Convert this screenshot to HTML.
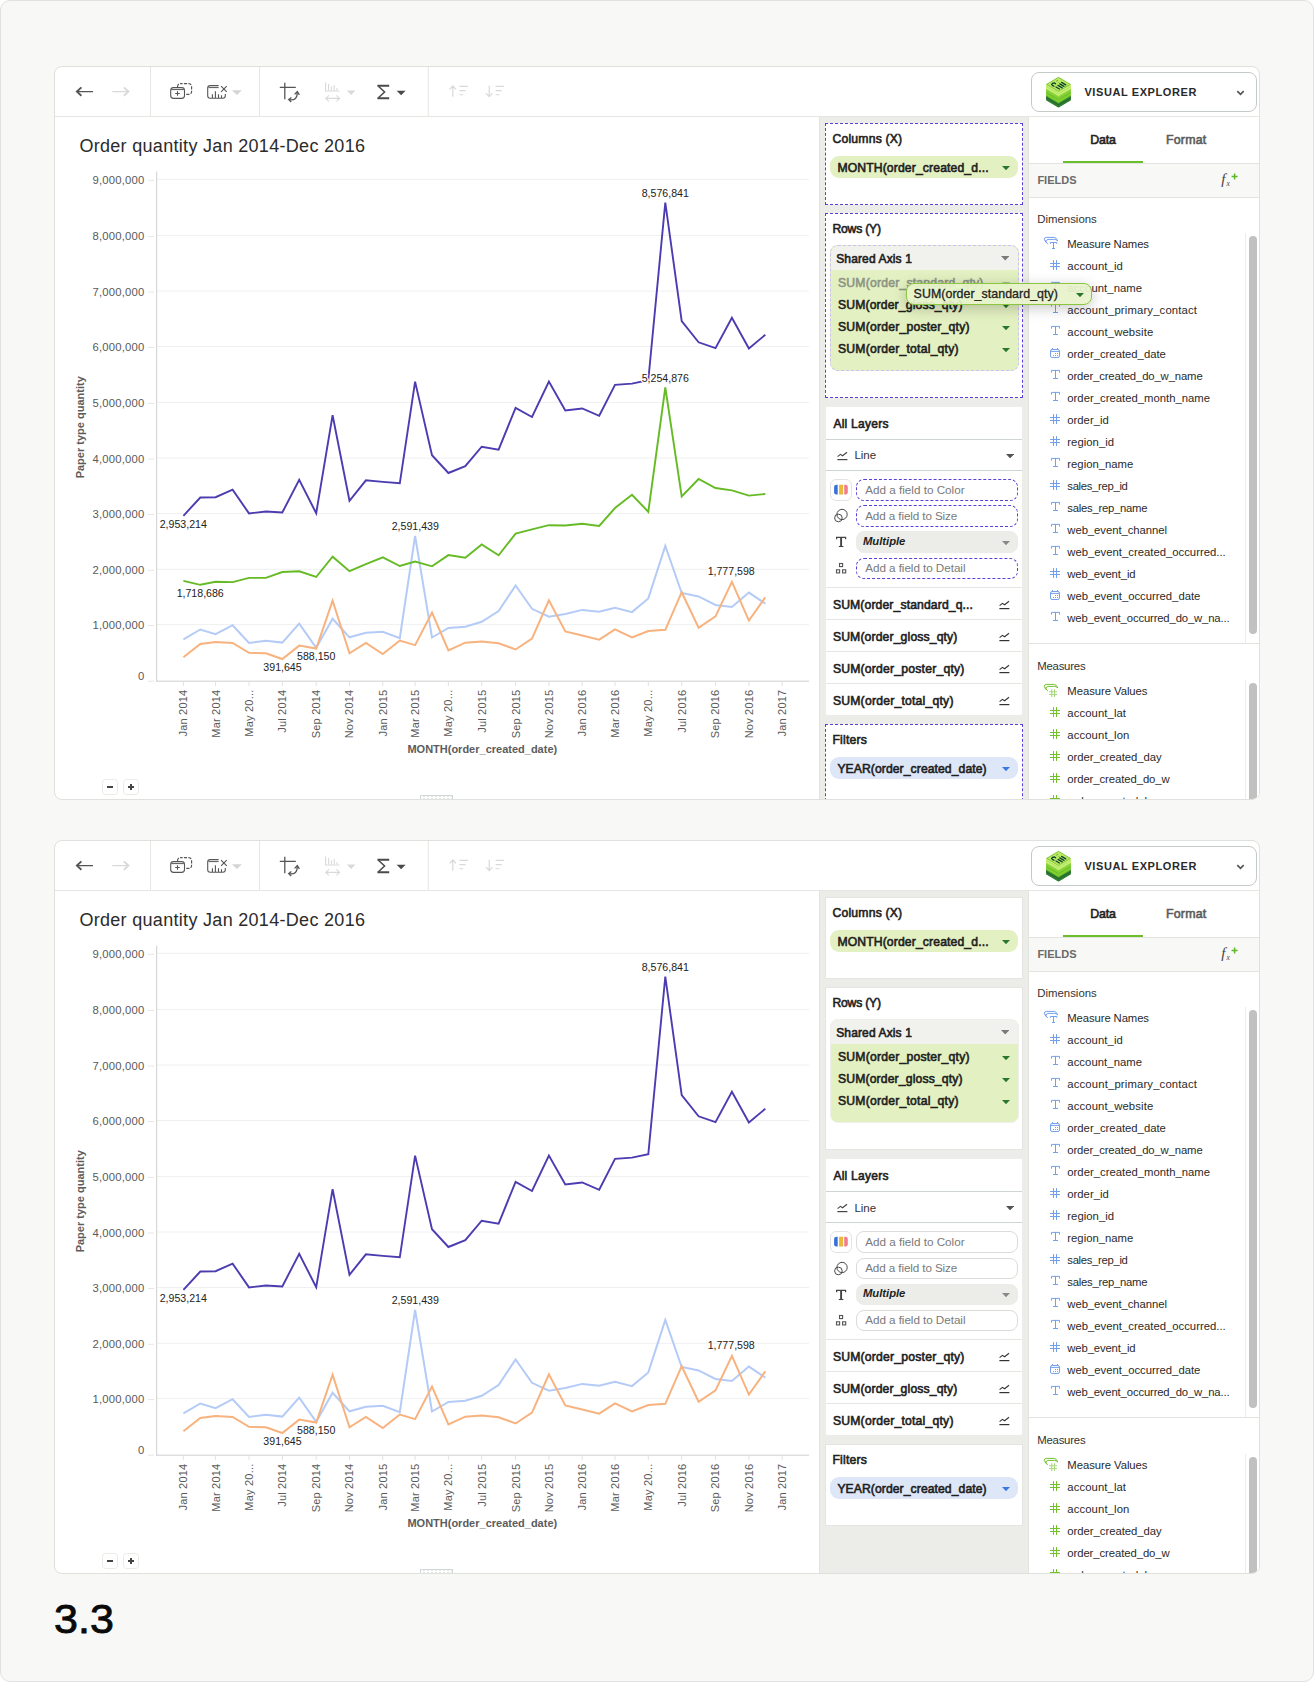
<!DOCTYPE html>
<html lang="en"><head><meta charset="utf-8"><title>Visual Explorer 3.3</title>
<style>
html,body{margin:0;padding:0;background:#fff}
body{width:1314px;height:1682px;position:relative;overflow:hidden;font-family:"Liberation Sans",sans-serif;color:#222}
.frame{position:absolute;left:0;top:0;width:1312px;height:1680px;border:1px solid #dfe2de;border-radius:10px;background:#f8f8f6}
.card{position:absolute;left:54px;width:1204px;height:732px;border:1px solid #dfe1dd;border-radius:8px;background:#fff;overflow:hidden}
.in{position:absolute;left:-55px;top:-67px;width:1314px;height:900px}
.abs{position:absolute;display:block}
.tb{position:absolute;left:55px;top:67px}
.chart{position:absolute;left:55px;top:117px}
.logo{position:absolute;left:1044px;top:75px}
.t{position:absolute;height:20px;line-height:20px;white-space:nowrap;font-size:11.3px}
.title{font-size:18px;color:#2b2b2b}
.h12{font-size:12.2px;font-weight:400;-webkit-text-stroke:.6px currentColor;color:#1f1f1f}
.h115{font-size:12px;font-weight:400;-webkit-text-stroke:.6px currentColor;color:#1f1f1f}
.n115{font-size:11.5px;color:#333}
.it{font-size:12.2px;font-weight:400;-webkit-text-stroke:.6px currentColor;color:#1f1f1f}
.ghosted{color:#8d9684}
.ph{font-size:11.7px;color:#7a7a7a}
.mul{font-size:11.3px;font-weight:700;font-style:italic;color:#1f1f1f}
.tab{font-size:12.4px;font-weight:400;-webkit-text-stroke:.6px currentColor}
.fields{font-size:11px;font-weight:700;color:#6a6a6a}
.dim{font-size:11.4px;color:#333}
.fld{font-size:11.3px;color:#2a2a2a}
.ve{font-size:11px;font-weight:700;color:#2a2a2a}
.dd{position:absolute;left:1031px;top:72px;width:224px;height:38px;border:1px solid #c4cac8;border-radius:8px;background:#fff;box-shadow:0 0 0 2px #fff}
.mid{position:absolute;left:819px;top:117px;width:209px;height:700px;background:#ecede9;border-left:1px solid #e3e4e0}
.rp{position:absolute;left:1028px;top:117px;width:232px;height:700px;background:#fff;border-left:1px solid #e3e4e0}
.mcard{position:absolute;background:#fff}
.pill{position:absolute;border-radius:9px}
.pt{font-size:12.2px;font-weight:400;-webkit-text-stroke:.6px currentColor;color:#1f1f1f}
.sa{position:absolute;border-radius:8px;background:#e3f0c1;overflow:hidden}
.sah{position:absolute;left:0;top:0;right:0;height:24.2px;background:#f1f2ee}
.hl{position:absolute;height:1px}
.cbtn{position:absolute;width:19.5px;height:19.5px;border:1px solid #e3e4e0;border-radius:6px;background:#fff}
.fbox{position:absolute;width:160px;height:19.6px;border-radius:8px;background:#fff}
.zb{position:absolute;width:13.6px;height:13.6px;border:1px solid #ebebe6;border-radius:3.5px;background:#fff}
.zb i{position:absolute;background:#444;display:block}
.rh{position:absolute;left:420px;top:795px;width:30.6px;height:6px;border:1px solid #d2d8d8;background:#fff;background-image:radial-gradient(#c8cccc 0.8px,transparent 1px);background-size:4px 4px;background-position:1px 1.5px}
.ghost{position:absolute;z-index:5;border:1px solid #8cc641;border-radius:8px;background:rgba(231,243,203,.93);box-shadow:0 3px 14px rgba(0,0,0,.22)}
.gt{font-size:12.4px;color:#222;z-index:6;-webkit-text-stroke:.3px currentColor}
.num{position:absolute;left:54.4px;top:1595px;font-size:41px;line-height:48px;color:#0a0a0a;-webkit-text-stroke:.85px #0a0a0a;transform:scaleX(1.05);transform-origin:0 0}
</style></head>
<body>
<div class="frame"></div>
<div class="card" style="top:66px"><div class="in">
<svg class="tb" width="975" height="49" viewBox="55 67 975 49" fill="none" stroke-linecap="butt">
<line x1="150.5" x2="150.5" y1="67" y2="116" stroke="#e6e6e3" stroke-width="1"/>
<line x1="259.5" x2="259.5" y1="67" y2="116" stroke="#e6e6e3" stroke-width="1"/>
<line x1="428.3" x2="428.3" y1="67" y2="116" stroke="#e6e6e3" stroke-width="1"/>
<path d="M93 91.6H78" stroke="#555" stroke-width="1.4"/><path d="M81.4 87.4L76.9 91.6L81.4 95.8" stroke="#555" stroke-width="1.9" stroke-linejoin="miter"/>
<path d="M112.3 91.6H127.3" stroke="#d9d9d9" stroke-width="1.4"/><path d="M123.9 87.4L128.4 91.6L123.9 95.8" stroke="#d9d9d9" stroke-width="1.9" stroke-linejoin="miter"/>
<rect x="177.6" y="83.6" width="14" height="10.8" rx="2.8" stroke="#555" stroke-width="1.15" stroke-dasharray="3.2 1.3" stroke-dashoffset="1"/>
<rect x="170.7" y="87.6" width="13.8" height="10.8" rx="2.8" fill="#fff" stroke="#555" stroke-width="1.1"/>
<path d="M171.4 89.6H183.8" stroke="#555" stroke-width="1"/><path d="M177.5 91.2v4.6M175.2 93.5h4.6" stroke="#555" stroke-width="1.1"/>
<path d="M218.6 85.6H210.2Q207.7 85.6 207.7 88.1V95.8Q207.7 98.3 210.2 98.3H222.8Q225.3 98.3 225.3 95.8V94" stroke="#555" stroke-width="1.1"/>
<path d="M208.6 87.6H218.6" stroke="#555" stroke-width="1"/>
<path d="M212.4 98V94.3M215.4 98V91.2M218.5 98V94.3M221.5 98V95.3" stroke="#555" stroke-width="1.1"/>
<path d="M221.1 86.2l5.6 5.6M226.7 86.2l-5.6 5.6" stroke="#555" stroke-width="1.1"/>
<path d="M232 90.2h9.8l-4.9 4.8z" fill="#d3d5d2"/>
<path d="M284.8 82.8V99.2M279.8 87.3H295.8" stroke="#555" stroke-width="1.3"/>
<path d="M289.2 99.7Q297.6 101 297.2 92.2" stroke="#555" stroke-width="1.3"/>
<path d="M294.6 94.4L297.3 91.6L299.4 94.8" stroke="#555" stroke-width="1.3"/><path d="M291.4 97.4L288.7 99.6L291.2 102" stroke="#555" stroke-width="1.3"/>
<path d="M325.6 82.6V91H339.6" stroke="#d9d9d9" stroke-width="1.1"/><path d="M328.6 90.5V84M331.4 90.5V86.5M334.2 90.5V85M337 90.5V88" stroke="#d9d9d9" stroke-width="1.1"/>
<path d="M326 98.4H339.4M329 95.4L325.8 98.4L329 101.4M336.4 95.4L339.6 98.4L336.4 101.4" stroke="#d9d9d9" stroke-width="1.1"/>
<path d="M346.8 90.6h8.6l-4.3 4.4z" fill="#d9d9d9"/>
<path d="M377.4 85.7H389.2M377.4 98.3H389.2" stroke="#4a4a4a" stroke-width="1.9"/><path d="M378.4 86.2L384.6 92L378.4 97.8" stroke="#4a4a4a" stroke-width="1.5"/>
<path d="M396.6 90.7h9l-4.5 4.6z" fill="#4a4a4a"/>
<path d="M452.8 96.8V86.2M449.6 89.4L452.8 86L456 89.4" stroke="#d9d9d9" stroke-width="1.2"/><path d="M459.4 86.4H468M459.4 90.6H465.6M459.4 94.8H463.2" stroke="#d9d9d9" stroke-width="1.1"/>
<path d="M489.2 85.8V96.4M486 93.2L489.2 96.6L492.4 93.2" stroke="#d9d9d9" stroke-width="1.2"/><path d="M495.6 86.4H504.2M495.6 90.6H501.8M495.6 94.8H499.4" stroke="#d9d9d9" stroke-width="1.1"/>
</svg>
<div class="abs" style="left:55px;top:116px;width:1205px;height:1px;background:#e6e6e3"></div>
<div class="dd"></div>
<svg class="logo" width="30" height="34" viewBox="1044 75 30 34">
<polygon points="1046.7,95.5 1058.5,88.5 1070.3,95.5 1070.3,99.9 1058.5,106.9 1046.7,99.9" fill="#2d7c31" stroke="#2d7c31" stroke-width="1.2" stroke-linejoin="round"/>
<polyline points="1046.3,97.9 1058.5,104.9 1070.7,97.9" fill="none" stroke="#1e672a" stroke-width="0.9" stroke-linejoin="round"/>
<polygon points="1046.7,89.4 1058.5,82.4 1070.3,89.4 1070.3,95.60000000000001 1058.5,102.60000000000001 1046.7,95.60000000000001" fill="#80d131" stroke="#80d131" stroke-width="1.2" stroke-linejoin="round"/>
<polyline points="1046.3,92.7 1058.5,99.7 1070.7,92.7" fill="none" stroke="#65b926" stroke-width="0.9" stroke-linejoin="round"/>
<polyline points="1046.3,95.9 1058.5,102.9 1070.7,95.9" fill="none" stroke="#5aa82a" stroke-width="0.7" stroke-linejoin="round"/>
<polygon points="1046.7,84.4 1058.5,77.4 1070.3,84.4 1070.3,89.0 1058.5,96.0 1046.7,89.0" fill="#c7f172" stroke="#c7f172" stroke-width="1.2" stroke-linejoin="round"/>
<polyline points="1046.3,89.3 1058.5,96.3 1070.7,89.3" fill="none" stroke="#8ccc48" stroke-width="0.7" stroke-linejoin="round"/>
<polygon points="1046.7,84.4 1058.5,77.4 1070.3,84.4 1058.5,91.4" fill="#b9ea5f" stroke="#6db33a" stroke-width="0.7" stroke-linejoin="round"/>
<polyline points="1046.3,86.5 1058.5,93.5 1070.7,86.5" fill="none" stroke="#9ad651" stroke-width="0.6" stroke-linejoin="round"/>
<path d="M1051.6 84.6q0.6-1.6 2.8-1.6l1.2 0.8M1052.4 85.4l1.6 0.9" stroke="#0c4030" stroke-width="1.3" fill="none" stroke-linecap="round"/>
<path d="M1061.6 82.4l4.2 2.5M1059.8 83.9l4.2 2.5M1058 85.4l4.2 2.5M1056 87l3.4 2" stroke="#0c4030" stroke-width="1.25" fill="none" stroke-linecap="round"/>
<path d="M1056.2 81.3l1.8-1M1058.6 82.5l1 0.6" stroke="#4a9540" stroke-width="0.8" fill="none"/>
</svg>
<div class="t ve" style="left:1084.4px;top:82.2px;letter-spacing:0.592px;">VISUAL EXPLORER</div>
<svg class="abs" style="left:1236px;top:90.4px" width="9" height="6" viewBox="0 0 9 6" fill="none"><path d="M1.3 1.2L4.5 4.3L7.7 1.2" stroke="#555" stroke-width="1.7"/></svg>
<div class="t title" style="left:79.4px;top:135.6px;letter-spacing:0.304px;">Order quantity Jan 2014-Dec 2016</div>
<svg class="chart" width="764" height="682" viewBox="55 117 764 682" font-family="Liberation Sans, sans-serif">
<line x1="157" x2="809" y1="179.3" y2="179.3" stroke="#f0f0f0" stroke-width="1"/>
<line x1="148" x2="154" y1="180.3" y2="180.3" stroke="#e6e6e6" stroke-width="1"/>
<line x1="157" x2="809" y1="235.4" y2="235.4" stroke="#f0f0f0" stroke-width="1"/>
<line x1="148" x2="154" y1="236.4" y2="236.4" stroke="#e6e6e6" stroke-width="1"/>
<line x1="157" x2="809" y1="291.0" y2="291.0" stroke="#f0f0f0" stroke-width="1"/>
<line x1="148" x2="154" y1="292.0" y2="292.0" stroke="#e6e6e6" stroke-width="1"/>
<line x1="157" x2="809" y1="346.5" y2="346.5" stroke="#f0f0f0" stroke-width="1"/>
<line x1="148" x2="154" y1="347.5" y2="347.5" stroke="#e6e6e6" stroke-width="1"/>
<line x1="157" x2="809" y1="402.4" y2="402.4" stroke="#f0f0f0" stroke-width="1"/>
<line x1="148" x2="154" y1="403.4" y2="403.4" stroke="#e6e6e6" stroke-width="1"/>
<line x1="157" x2="809" y1="458.0" y2="458.0" stroke="#f0f0f0" stroke-width="1"/>
<line x1="148" x2="154" y1="459.0" y2="459.0" stroke="#e6e6e6" stroke-width="1"/>
<line x1="157" x2="809" y1="513.5" y2="513.5" stroke="#f0f0f0" stroke-width="1"/>
<line x1="148" x2="154" y1="514.5" y2="514.5" stroke="#e6e6e6" stroke-width="1"/>
<line x1="157" x2="809" y1="569.3" y2="569.3" stroke="#f0f0f0" stroke-width="1"/>
<line x1="148" x2="154" y1="570.3" y2="570.3" stroke="#e6e6e6" stroke-width="1"/>
<line x1="157" x2="809" y1="624.6" y2="624.6" stroke="#f0f0f0" stroke-width="1"/>
<line x1="148" x2="154" y1="625.6" y2="625.6" stroke="#e6e6e6" stroke-width="1"/>
<line x1="148" x2="154" y1="681.2" y2="681.2" stroke="#e6e6e6" stroke-width="1"/>
<line x1="156.7" x2="156.7" y1="171.5" y2="681.7" stroke="#cfcfcf" stroke-width="1"/>
<line x1="156.2" x2="809" y1="681.2" y2="681.2" stroke="#cfcfcf" stroke-width="1"/>
<line x1="183.4" x2="183.4" y1="681.5" y2="686" stroke="#e2e2e2" stroke-width="1"/>
<line x1="215.6" x2="215.6" y1="681.5" y2="686" stroke="#e2e2e2" stroke-width="1"/>
<line x1="249.0" x2="249.0" y1="681.5" y2="686" stroke="#e2e2e2" stroke-width="1"/>
<line x1="282.3" x2="282.3" y1="681.5" y2="686" stroke="#e2e2e2" stroke-width="1"/>
<line x1="316.2" x2="316.2" y1="681.5" y2="686" stroke="#e2e2e2" stroke-width="1"/>
<line x1="349.5" x2="349.5" y1="681.5" y2="686" stroke="#e2e2e2" stroke-width="1"/>
<line x1="382.8" x2="382.8" y1="681.5" y2="686" stroke="#e2e2e2" stroke-width="1"/>
<line x1="415.1" x2="415.1" y1="681.5" y2="686" stroke="#e2e2e2" stroke-width="1"/>
<line x1="448.4" x2="448.4" y1="681.5" y2="686" stroke="#e2e2e2" stroke-width="1"/>
<line x1="481.7" x2="481.7" y1="681.5" y2="686" stroke="#e2e2e2" stroke-width="1"/>
<line x1="515.6" x2="515.6" y1="681.5" y2="686" stroke="#e2e2e2" stroke-width="1"/>
<line x1="548.9" x2="548.9" y1="681.5" y2="686" stroke="#e2e2e2" stroke-width="1"/>
<line x1="582.2" x2="582.2" y1="681.5" y2="686" stroke="#e2e2e2" stroke-width="1"/>
<line x1="615.0" x2="615.0" y1="681.5" y2="686" stroke="#e2e2e2" stroke-width="1"/>
<line x1="648.3" x2="648.3" y1="681.5" y2="686" stroke="#e2e2e2" stroke-width="1"/>
<line x1="681.7" x2="681.7" y1="681.5" y2="686" stroke="#e2e2e2" stroke-width="1"/>
<line x1="715.5" x2="715.5" y1="681.5" y2="686" stroke="#e2e2e2" stroke-width="1"/>
<line x1="748.9" x2="748.9" y1="681.5" y2="686" stroke="#e2e2e2" stroke-width="1"/>
<line x1="782.2" x2="782.2" y1="681.5" y2="686" stroke="#e2e2e2" stroke-width="1"/>
<text x="144.4" y="183.9" text-anchor="end" font-size="11.3" letter-spacing="0.18" fill="#5a5a5a">9,000,000</text>
<text x="144.4" y="240.0" text-anchor="end" font-size="11.3" letter-spacing="0.18" fill="#5a5a5a">8,000,000</text>
<text x="144.4" y="295.6" text-anchor="end" font-size="11.3" letter-spacing="0.18" fill="#5a5a5a">7,000,000</text>
<text x="144.4" y="351.1" text-anchor="end" font-size="11.3" letter-spacing="0.18" fill="#5a5a5a">6,000,000</text>
<text x="144.4" y="407.0" text-anchor="end" font-size="11.3" letter-spacing="0.18" fill="#5a5a5a">5,000,000</text>
<text x="144.4" y="462.6" text-anchor="end" font-size="11.3" letter-spacing="0.18" fill="#5a5a5a">4,000,000</text>
<text x="144.4" y="518.1" text-anchor="end" font-size="11.3" letter-spacing="0.18" fill="#5a5a5a">3,000,000</text>
<text x="144.4" y="573.9" text-anchor="end" font-size="11.3" letter-spacing="0.18" fill="#5a5a5a">2,000,000</text>
<text x="144.4" y="629.2" text-anchor="end" font-size="11.3" letter-spacing="0.18" fill="#5a5a5a">1,000,000</text>
<text x="144.4" y="680" text-anchor="end" font-size="11.3" fill="#5a5a5a">0</text>
<text transform="translate(187.3,689.6) rotate(-90)" text-anchor="end" font-size="11" letter-spacing="0.2" fill="#5a5a5a">Jan 2014</text>
<text transform="translate(219.5,689.6) rotate(-90)" text-anchor="end" font-size="11" letter-spacing="0.2" fill="#5a5a5a">Mar 2014</text>
<text transform="translate(252.9,689.6) rotate(-90)" text-anchor="end" font-size="11" letter-spacing="0.2" fill="#5a5a5a">May 20...</text>
<text transform="translate(286.2,689.6) rotate(-90)" text-anchor="end" font-size="11" letter-spacing="0.2" fill="#5a5a5a">Jul 2014</text>
<text transform="translate(320.1,689.6) rotate(-90)" text-anchor="end" font-size="11" letter-spacing="0.2" fill="#5a5a5a">Sep 2014</text>
<text transform="translate(353.4,689.6) rotate(-90)" text-anchor="end" font-size="11" letter-spacing="0.2" fill="#5a5a5a">Nov 2014</text>
<text transform="translate(386.7,689.6) rotate(-90)" text-anchor="end" font-size="11" letter-spacing="0.2" fill="#5a5a5a">Jan 2015</text>
<text transform="translate(419.0,689.6) rotate(-90)" text-anchor="end" font-size="11" letter-spacing="0.2" fill="#5a5a5a">Mar 2015</text>
<text transform="translate(452.3,689.6) rotate(-90)" text-anchor="end" font-size="11" letter-spacing="0.2" fill="#5a5a5a">May 20...</text>
<text transform="translate(485.6,689.6) rotate(-90)" text-anchor="end" font-size="11" letter-spacing="0.2" fill="#5a5a5a">Jul 2015</text>
<text transform="translate(519.5,689.6) rotate(-90)" text-anchor="end" font-size="11" letter-spacing="0.2" fill="#5a5a5a">Sep 2015</text>
<text transform="translate(552.8,689.6) rotate(-90)" text-anchor="end" font-size="11" letter-spacing="0.2" fill="#5a5a5a">Nov 2015</text>
<text transform="translate(586.1,689.6) rotate(-90)" text-anchor="end" font-size="11" letter-spacing="0.2" fill="#5a5a5a">Jan 2016</text>
<text transform="translate(618.9,689.6) rotate(-90)" text-anchor="end" font-size="11" letter-spacing="0.2" fill="#5a5a5a">Mar 2016</text>
<text transform="translate(652.2,689.6) rotate(-90)" text-anchor="end" font-size="11" letter-spacing="0.2" fill="#5a5a5a">May 20...</text>
<text transform="translate(685.6,689.6) rotate(-90)" text-anchor="end" font-size="11" letter-spacing="0.2" fill="#5a5a5a">Jul 2016</text>
<text transform="translate(719.4,689.6) rotate(-90)" text-anchor="end" font-size="11" letter-spacing="0.2" fill="#5a5a5a">Sep 2016</text>
<text transform="translate(752.8,689.6) rotate(-90)" text-anchor="end" font-size="11" letter-spacing="0.2" fill="#5a5a5a">Nov 2016</text>
<text transform="translate(786.1,689.6) rotate(-90)" text-anchor="end" font-size="11" letter-spacing="0.2" fill="#5a5a5a">Jan 2017</text>
<text x="482.3" y="753.2" text-anchor="middle" font-size="11" font-weight="700" fill="#5c5c5c">MONTH(order_created_date)</text>
<text transform="translate(84,427.3) rotate(-90)" text-anchor="middle" font-size="11" font-weight="700" fill="#5c5c5c">Paper type quantity</text>
<polyline points="183.4,639.3 200.3,629.5 215.6,634.1 232.6,625.2 249.0,642.9 265.9,640.7 282.3,642.6 299.2,623.7 316.2,647.8 332.6,618.8 349.5,637.3 365.9,632.7 382.8,631.8 399.8,638.2 415.1,536.0 432.0,637.5 448.4,627.9 465.3,626.8 481.7,621.8 498.6,611.0 515.6,585.5 532.0,608.8 548.9,616.7 565.3,614.0 582.2,609.9 599.2,611.8 615.0,607.8 632.0,612.1 648.3,598.4 665.3,545.9 681.7,593.0 698.6,596.4 715.5,605.0 731.9,606.9 748.9,592.6 765.3,603.6" fill="none" stroke="#b4cbf8" stroke-width="2" stroke-linejoin="miter" stroke-miterlimit="4"/>
<polyline points="183.4,657.3 200.3,643.9 215.6,642.0 232.6,642.9 249.0,652.8 265.9,653.3 282.3,659.0 299.2,645.6 316.2,648.5 332.6,600.6 349.5,653.3 365.9,643.0 382.8,654.0 399.8,640.5 415.1,645.1 432.0,612.6 448.4,650.3 465.3,642.7 481.7,641.6 498.6,643.2 515.6,649.5 532.0,638.6 548.9,600.3 565.3,631.4 582.2,635.5 599.2,639.6 615.0,629.3 632.0,637.4 648.3,631.0 665.3,629.8 681.7,592.2 698.6,627.8 715.5,616.4 731.9,581.8 748.9,620.6 765.3,597.4" fill="none" stroke="#f8b27e" stroke-width="2" stroke-linejoin="miter" stroke-miterlimit="4"/>
<polyline points="183.4,580.8 200.3,584.8 215.6,581.8 232.6,582.1 249.0,577.9 265.9,577.9 282.3,572.0 299.2,571.3 316.2,577.0 332.6,556.7 349.5,571.1 365.9,564.2 382.8,557.4 399.8,566.0 415.1,561.5 432.0,566.3 448.4,555.1 465.3,557.8 481.7,544.4 498.6,555.3 515.6,533.7 532.0,529.3 548.9,525.2 565.3,525.5 582.2,523.8 599.2,525.9 615.0,508.0 632.0,494.8 648.3,511.8 665.3,387.5 681.7,496.5 698.6,479.0 715.5,488.0 731.9,490.4 748.9,495.6 765.3,494.0" fill="none" stroke="#66bb25" stroke-width="1.9" stroke-linejoin="miter" stroke-miterlimit="4"/>
<polyline points="183.4,515.8 200.3,497.5 215.6,497.2 232.6,489.6 249.0,513.4 265.9,511.5 282.3,512.5 299.2,479.8 316.2,513.2 332.6,415.2 349.5,500.8 365.9,480.3 382.8,481.9 399.8,483.3 415.1,381.6 432.0,455.2 448.4,473.0 465.3,466.2 481.7,446.7 498.6,449.7 515.6,407.8 532.0,417.0 548.9,381.5 565.3,410.5 582.2,408.5 599.2,415.8 615.0,384.9 632.0,383.6 648.3,380.3 665.3,202.6 681.7,321.1 698.6,342.3 715.5,348.1 731.9,317.7 748.9,348.5 765.3,334.8" fill="none" stroke="#4c3cb1" stroke-width="1.9" stroke-linejoin="miter" stroke-miterlimit="4"/>
<text x="183.3" y="528.2" text-anchor="middle" font-size="10.6" fill="#222" stroke="#fff" stroke-width="2.5" stroke-linejoin="round" paint-order="stroke">2,953,214</text>
<text x="282.5" y="671.2" text-anchor="middle" font-size="10.6" fill="#222" stroke="#fff" stroke-width="2.5" stroke-linejoin="round" paint-order="stroke">391,645</text>
<text x="316.2" y="660.2" text-anchor="middle" font-size="10.6" fill="#222" stroke="#fff" stroke-width="2.5" stroke-linejoin="round" paint-order="stroke">588,150</text>
<text x="415.3" y="530" text-anchor="middle" font-size="10.6" fill="#222" stroke="#fff" stroke-width="2.5" stroke-linejoin="round" paint-order="stroke">2,591,439</text>
<text x="665.3" y="196.8" text-anchor="middle" font-size="10.6" fill="#222" stroke="#fff" stroke-width="2.5" stroke-linejoin="round" paint-order="stroke">8,576,841</text>
<text x="731.2" y="575.2" text-anchor="middle" font-size="10.6" fill="#222" stroke="#fff" stroke-width="2.5" stroke-linejoin="round" paint-order="stroke">1,777,598</text>
<text x="200.2" y="597.2" text-anchor="middle" font-size="10.6" fill="#222" stroke="#fff" stroke-width="2.5" stroke-linejoin="round" paint-order="stroke">1,718,686</text>
<text x="665.3" y="382" text-anchor="middle" font-size="10.6" fill="#222" stroke="#fff" stroke-width="2.5" stroke-linejoin="round" paint-order="stroke">5,254,876</text>
</svg>
<div class="zb" style="left:102.2px;top:779px"><i style="left:3.6px;top:6.2px;width:6px;height:1.9px"></i></div>
<div class="zb" style="left:123.2px;top:779px"><i style="left:3.6px;top:6.2px;width:6px;height:1.9px"></i><i style="left:5.65px;top:4.15px;width:1.9px;height:6px"></i></div>
<div class="rh"></div>
<div class="mid"></div>
<div class="mcard" style="left:825px;top:123px;width:196px;height:80px;border:1px dashed #5a3fd8"></div>
<div class="t h12" style="left:832.4px;top:128.8px;letter-spacing:0.207px;">Columns (X)</div>
<div class="pill" style="left:830px;top:156px;width:188px;height:22px;background:#e3f0c1;"></div><div class="t pt" style="left:837.4px;top:157.9px;letter-spacing:0.124px;">MONTH(order_created_d...</div><svg class="abs" style="left:1002px;top:165.9px" width="8" height="4.2" viewBox="0 0 8 4.2"><path d="M0 0h8l-4.0 4.2z" fill="#27762b"/></svg>
<div class="mcard" style="left:825px;top:213px;width:196px;height:183px;border:1px dashed #5a3fd8"></div>
<div class="t h12" style="left:832.4px;top:219px;letter-spacing:-0.201px;">Rows (Y)</div>
<div class="sa" style="left:829.5px;top:244.7px;width:187px;height:124.5px;border:1px dashed #c9c2f3"><div class="sah"></div></div>
<div class="t h115" style="left:836.2px;top:249.2px;letter-spacing:0.138px;">Shared Axis 1</div>
<svg class="abs" style="left:1001px;top:256.3px" width="8.4" height="4.4" viewBox="0 0 8.4 4.4"><path d="M0 0h8.4l-4.2 4.4z" fill="#7a7a7a"/></svg>
<div class="t it ghosted" style="left:838px;top:273.0px;letter-spacing:0.204px;">SUM(order_standard_qty)</div>
<svg class="abs" style="left:1001.5px;top:281.7px" width="8" height="4.2" viewBox="0 0 8 4.2"><path d="M0 0h8l-4.0 4.2z" fill="#9cc48a"/></svg>
<div class="t it" style="left:838px;top:295.0px;letter-spacing:0.136px;">SUM(order_gloss_qty)</div>
<svg class="abs" style="left:1001.5px;top:303.7px" width="8" height="4.2" viewBox="0 0 8 4.2"><path d="M0 0h8l-4.0 4.2z" fill="#27762b"/></svg>
<div class="t it" style="left:838px;top:317.0px;letter-spacing:0.208px;">SUM(order_poster_qty)</div>
<svg class="abs" style="left:1001.5px;top:325.7px" width="8" height="4.2" viewBox="0 0 8 4.2"><path d="M0 0h8l-4.0 4.2z" fill="#27762b"/></svg>
<div class="t it" style="left:838px;top:339.0px;letter-spacing:0.215px;">SUM(order_total_qty)</div>
<svg class="abs" style="left:1001.5px;top:347.7px" width="8" height="4.2" viewBox="0 0 8 4.2"><path d="M0 0h8l-4.0 4.2z" fill="#27762b"/></svg>
<div class="mcard" style="left:825.7px;top:406.7px;width:196.4px;height:308.4px"></div>
<div class="t h115" style="left:833.4px;top:413.9px;letter-spacing:0.257px;">All Layers</div>
<div class="hl" style="left:825.7px;top:439.2px;width:196.4px;background:#cfd5d2"></div>
<svg class="abs" style="left:836.8px;top:450.6px" width="11" height="10" viewBox="0 0 11 10" fill="none"><path d="M0.6 5.6L3.4 3.4L5.6 4.8L10 1.2" stroke="#444" stroke-width="1.1"/><path d="M0.4 8.6H10.4" stroke="#444" stroke-width="1.2"/></svg>
<div class="t n115" style="left:854.4px;top:445.4px;letter-spacing:-0.017px;">Line</div>
<svg class="abs" style="left:1005.8px;top:453.8px" width="8.2" height="4.4" viewBox="0 0 8.2 4.4"><path d="M0 0h8.2l-4.1 4.4z" fill="#555"/></svg>
<div class="hl" style="left:825.7px;top:469.8px;width:196.4px;background:#cfd5d2"></div>
<div class="cbtn" style="left:830.4px;top:479.3px"></div>
<svg class="abs" style="left:833px;top:483.3px" width="16" height="14" viewBox="833 4 16 14"><path d="M837.7 5.7V15.5H836.4Q834.1 15.5 834.1 13.2V8Q834.1 5.7 836.4 5.7z" fill="#3a6fd9"/><rect x="839.1" y="5.7" width="4" height="9.8" fill="#e8b93b"/><path d="M844.2 5.7V15.5H845.5Q847.8 15.5 847.8 13.2V8Q847.8 5.7 845.5 5.7z" fill="#f27c90"/></svg>
<div class="fbox" style="left:856px;top:479.3px;border:1px dashed #5a3fd8"></div>
<div class="t ph" style="left:865.2px;top:480.1px;letter-spacing:-0.0px;">Add a field to Color</div>
<svg class="abs" style="left:832px;top:507.4px" width="18" height="18" viewBox="832 2 18 18" fill="none" stroke="#4a4a4a" stroke-width="1"><circle cx="842.05" cy="9.45" r="5.15"/><circle cx="838.4" cy="12.95" r="3.8"/></svg>
<div class="fbox" style="left:856px;top:505.4px;border:1px dashed #5a3fd8"></div>
<div class="t ph" style="left:865.2px;top:506.19999999999993px;letter-spacing:-0.118px;">Add a field to Size</div>
<svg class="abs" style="left:834px;top:535.4px" width="14" height="14" viewBox="834 4 14 14" fill="none" stroke="#444"><path d="M836.6 8.2V6.3H845.6V8.2" stroke-width="1.2"/><path d="M841.1 6.3V15.4" stroke-width="1.9"/><path d="M838.8 15.5H843.4" stroke-width="1.1"/></svg>
<div class="fbox" style="left:856px;top:531.4px;border:1px solid #ecede9;background:#ecede9"></div>
<div class="t mul" style="left:863px;top:530.8px;letter-spacing:-0.041px;">Multiple</div>
<svg class="abs" style="left:1002px;top:540.9px" width="8" height="4.2" viewBox="0 0 8 4.2"><path d="M0 0h8l-4.0 4.2z" fill="#888"/></svg>
<svg class="abs" style="left:834px;top:561.5px" width="14" height="14" viewBox="834 4 14 14" fill="none" stroke="#555" stroke-width="1.1"><rect x="839.5" y="5.5" width="3.1" height="3.1"/><rect x="836.5" y="11.8" width="3.1" height="3.1"/><rect x="842.6" y="11.8" width="3.1" height="3.1"/></svg>
<div class="fbox" style="left:856px;top:557.5px;border:1px dashed #5a3fd8"></div>
<div class="t ph" style="left:865.2px;top:558.3px;letter-spacing:-0.053px;">Add a field to Detail</div>
<div class="hl" style="left:825.7px;top:587.2px;width:196.4px;background:#e6e7e3"></div>
<div class="t it" style="left:832.9px;top:594.8000000000001px;letter-spacing:0.117px;">SUM(order_standard_q...</div>
<svg class="abs" style="left:998.6px;top:599.8000000000001px" width="11" height="10" viewBox="0 0 11 10" fill="none"><path d="M0.6 5.6L3.4 3.4L5.6 4.8L10 1.2" stroke="#333" stroke-width="1.1"/><path d="M0.4 8.6H10.4" stroke="#333" stroke-width="1.2"/></svg>
<div class="hl" style="left:825.7px;top:619.2px;width:196.4px;background:#e6e7e3"></div>
<div class="t it" style="left:832.9px;top:626.8000000000001px;letter-spacing:0.136px;">SUM(order_gloss_qty)</div>
<svg class="abs" style="left:998.6px;top:631.8000000000001px" width="11" height="10" viewBox="0 0 11 10" fill="none"><path d="M0.6 5.6L3.4 3.4L5.6 4.8L10 1.2" stroke="#333" stroke-width="1.1"/><path d="M0.4 8.6H10.4" stroke="#333" stroke-width="1.2"/></svg>
<div class="hl" style="left:825.7px;top:651.2px;width:196.4px;background:#e6e7e3"></div>
<div class="t it" style="left:832.9px;top:658.8000000000001px;letter-spacing:0.208px;">SUM(order_poster_qty)</div>
<svg class="abs" style="left:998.6px;top:663.8000000000001px" width="11" height="10" viewBox="0 0 11 10" fill="none"><path d="M0.6 5.6L3.4 3.4L5.6 4.8L10 1.2" stroke="#333" stroke-width="1.1"/><path d="M0.4 8.6H10.4" stroke="#333" stroke-width="1.2"/></svg>
<div class="hl" style="left:825.7px;top:683.2px;width:196.4px;background:#e6e7e3"></div>
<div class="t it" style="left:832.9px;top:690.8000000000001px;letter-spacing:0.215px;">SUM(order_total_qty)</div>
<svg class="abs" style="left:998.6px;top:695.8000000000001px" width="11" height="10" viewBox="0 0 11 10" fill="none"><path d="M0.6 5.6L3.4 3.4L5.6 4.8L10 1.2" stroke="#333" stroke-width="1.1"/><path d="M0.4 8.6H10.4" stroke="#333" stroke-width="1.2"/></svg>
<div class="mcard" style="left:825px;top:724px;width:196px;height:90px;border:1px dashed #5a3fd8"></div>
<div class="t h12" style="left:832.4px;top:729.8px;letter-spacing:0.219px;">Filters</div>
<div class="pill" style="left:830px;top:757.2px;width:188px;height:22px;background:#dde7f8;"></div><div class="t pt" style="left:837.4px;top:759.1px;letter-spacing:0.066px;">YEAR(order_created_date)</div><svg class="abs" style="left:1002px;top:767.1px" width="8" height="4.2" viewBox="0 0 8 4.2"><path d="M0 0h8l-4.0 4.2z" fill="#3b78e0"/></svg>
<div class="rp"></div>
<div class="t tab" style="left:1090.2px;top:130px;letter-spacing:-0.196px;color:#222">Data</div>
<div class="t tab" style="left:1166px;top:130px;letter-spacing:0.19px;color:#5c5c5c">Format</div>
<div class="abs" style="left:1029px;top:163px;width:231px;height:1px;background:#e3e4e0"></div>
<div class="abs" style="left:1063px;top:160.5px;width:80px;height:2.6px;background:#6cbf2c"></div>
<div class="abs" style="left:1029px;top:164px;width:231px;height:32.5px;background:#f8f8f6;border-bottom:1px solid #e3e4e0"></div>
<div class="t fields" style="left:1037.4px;top:170.4px;letter-spacing:-0.005px;">FIELDS</div>
<svg class="abs" style="left:1220px;top:171px" width="20" height="18" viewBox="0 0 20 18"><text x="1.2" y="13.4" font-family="Liberation Serif, serif" font-style="italic" font-size="15" fill="#444">f</text><text x="6.6" y="14.6" font-family="Liberation Serif, serif" font-style="italic" font-size="7.5" fill="#444">x</text><path d="M14.6 2.6v6M11.6 5.6h6" stroke="#5cb82a" stroke-width="1.5"/></svg>
<div class="t dim" style="left:1037.2px;top:209.4px;letter-spacing:0.009px;">Dimensions</div>
<svg class="abs" style="left:1040px;top:232.0px" width="26" height="24" viewBox="1040 232.0 26 24" fill="none"><path d="M1057.7 240.7Q1056.1 237.4 1054.4 237.4H1046.2Q1044.2 237.6 1044.3 239.4Q1044.7 241.0 1047.5 243.7" stroke="#739fee" stroke-width="1" stroke-linecap="round"/><path d="M1057.3 240.5Q1055.9 239.4 1054.6 239.4H1048Q1046.5 239.6 1045.7 241.3" stroke="#739fee" stroke-width="1" stroke-linecap="round"/><path d="M1045.2 240.7L1046.6 241.8L1045.4 242.1z" fill="#739fee" stroke="#739fee" stroke-width="0.6"/><path d="M1050.4 243.8V242.5H1056.8V243.8M1053.5 242.5V248.5M1052 248.5H1055" stroke="#739fee" stroke-width="1"/></svg>
<div class="t fld" style="left:1067.3px;top:234px;letter-spacing:-0.098px;">Measure Names</div>
<svg class="abs" style="left:1040px;top:254.0px" width="26" height="24" viewBox="1040 254.0 26 24" fill="none"><path d="M1053.5 260.1V270.0M1056.5 260.1V270.0M1050 263.5H1060M1050 266.5H1060" stroke="#739fee" stroke-width="1"/></svg>
<div class="t fld" style="left:1067.3px;top:256px;letter-spacing:0.105px;">account_id</div>
<svg class="abs" style="left:1040px;top:276.0px" width="26" height="24" viewBox="1040 276.0 26 24" fill="none"><path d="M1051.5 284.6V282.4H1059.5V284.6M1055.5 282.4V290.5M1053 290.5H1058" stroke="#739fee" stroke-width="1"/></svg>
<div class="t fld" style="left:1067.3px;top:278px;letter-spacing:0.063px;">account_name</div>
<svg class="abs" style="left:1040px;top:298.0px" width="26" height="24" viewBox="1040 298.0 26 24" fill="none"><path d="M1051.5 306.6V304.4H1059.5V306.6M1055.5 304.4V312.5M1053 312.5H1058" stroke="#739fee" stroke-width="1"/></svg>
<div class="t fld" style="left:1067.3px;top:300px;letter-spacing:0.158px;">account_primary_contact</div>
<svg class="abs" style="left:1040px;top:320.0px" width="26" height="24" viewBox="1040 320.0 26 24" fill="none"><path d="M1051.5 328.6V326.4H1059.5V328.6M1055.5 326.4V334.5M1053 334.5H1058" stroke="#739fee" stroke-width="1"/></svg>
<div class="t fld" style="left:1067.3px;top:322px;letter-spacing:0.125px;">account_website</div>
<svg class="abs" style="left:1040px;top:342.0px" width="26" height="24" viewBox="1040 342.0 26 24" fill="none"><rect x="1050.5" y="349.5" width="9" height="8" rx="1.6" stroke="#739fee" stroke-width="1"/><path d="M1050.5 351.4H1059.5M1052.5 348.0V349.6M1057.5 348.0V349.6" stroke="#739fee" stroke-width="1"/><rect x="1055.0" y="353.0" width="1" height="1" fill="#739fee"/><rect x="1057.0" y="353.0" width="1" height="1" fill="#739fee"/><rect x="1053.0" y="355.0" width="1" height="1" fill="#739fee"/><rect x="1055.0" y="355.0" width="1" height="1" fill="#739fee"/><rect x="1057.0" y="355.0" width="1" height="1" fill="#739fee"/></svg>
<div class="t fld" style="left:1067.3px;top:344px;letter-spacing:-0.001px;">order_created_date</div>
<svg class="abs" style="left:1040px;top:364.0px" width="26" height="24" viewBox="1040 364.0 26 24" fill="none"><path d="M1051.5 372.6V370.4H1059.5V372.6M1055.5 370.4V378.5M1053 378.5H1058" stroke="#739fee" stroke-width="1"/></svg>
<div class="t fld" style="left:1067.3px;top:366px;letter-spacing:-0.126px;">order_created_do_w_name</div>
<svg class="abs" style="left:1040px;top:386.0px" width="26" height="24" viewBox="1040 386.0 26 24" fill="none"><path d="M1051.5 394.6V392.4H1059.5V394.6M1055.5 392.4V400.5M1053 400.5H1058" stroke="#739fee" stroke-width="1"/></svg>
<div class="t fld" style="left:1067.3px;top:388px;letter-spacing:0.006px;">order_created_month_name</div>
<svg class="abs" style="left:1040px;top:408.0px" width="26" height="24" viewBox="1040 408.0 26 24" fill="none"><path d="M1053.5 414.1V424.0M1056.5 414.1V424.0M1050 417.5H1060M1050 420.5H1060" stroke="#739fee" stroke-width="1"/></svg>
<div class="t fld" style="left:1067.3px;top:410px;letter-spacing:-0.008px;">order_id</div>
<svg class="abs" style="left:1040px;top:430.0px" width="26" height="24" viewBox="1040 430.0 26 24" fill="none"><path d="M1053.5 436.1V446.0M1056.5 436.1V446.0M1050 439.5H1060M1050 442.5H1060" stroke="#739fee" stroke-width="1"/></svg>
<div class="t fld" style="left:1067.3px;top:432px;letter-spacing:0.039px;">region_id</div>
<svg class="abs" style="left:1040px;top:452.0px" width="26" height="24" viewBox="1040 452.0 26 24" fill="none"><path d="M1051.5 460.6V458.4H1059.5V460.6M1055.5 458.4V466.5M1053 466.5H1058" stroke="#739fee" stroke-width="1"/></svg>
<div class="t fld" style="left:1067.3px;top:454px;letter-spacing:0.005px;">region_name</div>
<svg class="abs" style="left:1040px;top:474.0px" width="26" height="24" viewBox="1040 474.0 26 24" fill="none"><path d="M1053.5 480.1V490.0M1056.5 480.1V490.0M1050 483.5H1060M1050 486.5H1060" stroke="#739fee" stroke-width="1"/></svg>
<div class="t fld" style="left:1067.3px;top:476px;letter-spacing:-0.315px;">sales_rep_id</div>
<svg class="abs" style="left:1040px;top:496.0px" width="26" height="24" viewBox="1040 496.0 26 24" fill="none"><path d="M1051.5 504.6V502.4H1059.5V504.6M1055.5 502.4V510.5M1053 510.5H1058" stroke="#739fee" stroke-width="1"/></svg>
<div class="t fld" style="left:1067.3px;top:498px;letter-spacing:-0.256px;">sales_rep_name</div>
<svg class="abs" style="left:1040px;top:518.0px" width="26" height="24" viewBox="1040 518.0 26 24" fill="none"><path d="M1051.5 526.6V524.4H1059.5V526.6M1055.5 524.4V532.5M1053 532.5H1058" stroke="#739fee" stroke-width="1"/></svg>
<div class="t fld" style="left:1067.3px;top:520px;letter-spacing:-0.05px;">web_event_channel</div>
<svg class="abs" style="left:1040px;top:540.0px" width="26" height="24" viewBox="1040 540.0 26 24" fill="none"><path d="M1051.5 548.6V546.4H1059.5V548.6M1055.5 546.4V554.5M1053 554.5H1058" stroke="#739fee" stroke-width="1"/></svg>
<div class="t fld" style="left:1067.3px;top:542px;letter-spacing:0.005px;">web_event_created_occurred...</div>
<svg class="abs" style="left:1040px;top:562.0px" width="26" height="24" viewBox="1040 562.0 26 24" fill="none"><path d="M1053.5 568.1V578.0M1056.5 568.1V578.0M1050 571.5H1060M1050 574.5H1060" stroke="#739fee" stroke-width="1"/></svg>
<div class="t fld" style="left:1067.3px;top:564px;letter-spacing:-0.129px;">web_event_id</div>
<svg class="abs" style="left:1040px;top:584.0px" width="26" height="24" viewBox="1040 584.0 26 24" fill="none"><rect x="1050.5" y="591.5" width="9" height="8" rx="1.6" stroke="#739fee" stroke-width="1"/><path d="M1050.5 593.4H1059.5M1052.5 590.0V591.6M1057.5 590.0V591.6" stroke="#739fee" stroke-width="1"/><rect x="1055.0" y="595.0" width="1" height="1" fill="#739fee"/><rect x="1057.0" y="595.0" width="1" height="1" fill="#739fee"/><rect x="1053.0" y="597.0" width="1" height="1" fill="#739fee"/><rect x="1055.0" y="597.0" width="1" height="1" fill="#739fee"/><rect x="1057.0" y="597.0" width="1" height="1" fill="#739fee"/></svg>
<div class="t fld" style="left:1067.3px;top:586px;letter-spacing:-0.003px;">web_event_occurred_date</div>
<svg class="abs" style="left:1040px;top:606.0px" width="26" height="24" viewBox="1040 606.0 26 24" fill="none"><path d="M1051.5 614.6V612.4H1059.5V614.6M1055.5 612.4V620.5M1053 620.5H1058" stroke="#739fee" stroke-width="1"/></svg>
<div class="t fld" style="left:1067.3px;top:608px;letter-spacing:-0.148px;">web_event_occurred_do_w_na...</div>
<div class="abs" style="left:1244.6px;top:232.5px;width:15px;height:410px;background:#fff;border-left:1px solid #ececec"></div>
<div class="abs" style="left:1248.8px;top:236px;width:7.8px;height:398px;background:#c1c1c1;border-radius:4px"></div>
<div class="abs" style="left:1029px;top:642.5px;width:231px;height:1px;background:#e3e4e0"></div>
<div class="t dim" style="left:1037.2px;top:656px;letter-spacing:-0.231px;">Measures</div>
<div class="abs" style="left:1029px;top:680px;width:231px;height:119px;overflow:hidden"><div style="position:absolute;left:-1029px;top:-680px">
<svg class="abs" style="left:1040px;top:679.0px" width="26" height="24" viewBox="1040 679.0 26 24" fill="none"><path d="M1057.7 687.7Q1056.1 684.4 1054.4 684.4H1046.2Q1044.2 684.6 1044.3 686.4Q1044.7 688.0 1047.5 690.7" stroke="#74c12c" stroke-width="1" stroke-linecap="round"/><path d="M1057.3 687.5Q1055.9 686.4 1054.6 686.4H1048Q1046.5 686.6 1045.7 688.3" stroke="#74c12c" stroke-width="1" stroke-linecap="round"/><path d="M1045.2 687.7L1046.6 688.8L1045.4 689.1z" fill="#74c12c" stroke="#74c12c" stroke-width="0.6"/><path d="M1051.7 689.2V697.0M1054.5 689.2V697.0M1049 691.7H1057M1049 694.5H1057" stroke="#74c12c" stroke-width="1.1" opacity="0.62"/></svg>
<div class="t fld" style="left:1067.3px;top:681px;letter-spacing:-0.046px;">Measure Values</div>
<svg class="abs" style="left:1040px;top:701.0px" width="26" height="24" viewBox="1040 701.0 26 24" fill="none"><path d="M1053.5 707.1V717.0M1056.5 707.1V717.0M1050 710.5H1060M1050 713.5H1060" stroke="#74c12c" stroke-width="1"/></svg>
<div class="t fld" style="left:1067.3px;top:703px;letter-spacing:0.092px;">account_lat</div>
<svg class="abs" style="left:1040px;top:723.0px" width="26" height="24" viewBox="1040 723.0 26 24" fill="none"><path d="M1053.5 729.1V739.0M1056.5 729.1V739.0M1050 732.5H1060M1050 735.5H1060" stroke="#74c12c" stroke-width="1"/></svg>
<div class="t fld" style="left:1067.3px;top:725px;letter-spacing:0.116px;">account_lon</div>
<svg class="abs" style="left:1040px;top:745.0px" width="26" height="24" viewBox="1040 745.0 26 24" fill="none"><path d="M1053.5 751.1V761.0M1056.5 751.1V761.0M1050 754.5H1060M1050 757.5H1060" stroke="#74c12c" stroke-width="1"/></svg>
<div class="t fld" style="left:1067.3px;top:747px;letter-spacing:-0.028px;">order_created_day</div>
<svg class="abs" style="left:1040px;top:767.0px" width="26" height="24" viewBox="1040 767.0 26 24" fill="none"><path d="M1053.5 773.1V783.0M1056.5 773.1V783.0M1050 776.5H1060M1050 779.5H1060" stroke="#74c12c" stroke-width="1"/></svg>
<div class="t fld" style="left:1067.3px;top:769px;letter-spacing:-0.072px;">order_created_do_w</div>
<svg class="abs" style="left:1040px;top:789.0px" width="26" height="24" viewBox="1040 789.0 26 24" fill="none"><path d="M1053.5 795.1V805.0M1056.5 795.1V805.0M1050 798.5H1060M1050 801.5H1060" stroke="#74c12c" stroke-width="1"/></svg>
<div class="t fld" style="left:1067.3px;top:791px;letter-spacing:0.045px;">order_created_hour</div>
<div class="abs" style="left:1244.6px;top:680px;width:15px;height:130px;background:#fff;border-left:1px solid #ececec"></div>
<div class="abs" style="left:1248.8px;top:683px;width:7.8px;height:140px;background:#c1c1c1;border-radius:4px"></div>
</div></div>
<div class="ghost" style="left:906px;top:283.4px;width:184px;height:19.4px"></div><div class="t gt" style="left:913.6px;top:283.8px;letter-spacing:0.048px;">SUM(order_standard_qty)</div><svg class="abs" style="z-index:6;left:1076.4px;top:292.5px" width="8" height="4.2" viewBox="0 0 8 4.2"><path d="M0 0h8l-4.0 4.2z" fill="#27762b"/></svg>
</div></div>
<div class="card" style="top:840px"><div class="in">
<svg class="tb" width="975" height="49" viewBox="55 67 975 49" fill="none" stroke-linecap="butt">
<line x1="150.5" x2="150.5" y1="67" y2="116" stroke="#e6e6e3" stroke-width="1"/>
<line x1="259.5" x2="259.5" y1="67" y2="116" stroke="#e6e6e3" stroke-width="1"/>
<line x1="428.3" x2="428.3" y1="67" y2="116" stroke="#e6e6e3" stroke-width="1"/>
<path d="M93 91.6H78" stroke="#555" stroke-width="1.4"/><path d="M81.4 87.4L76.9 91.6L81.4 95.8" stroke="#555" stroke-width="1.9" stroke-linejoin="miter"/>
<path d="M112.3 91.6H127.3" stroke="#d9d9d9" stroke-width="1.4"/><path d="M123.9 87.4L128.4 91.6L123.9 95.8" stroke="#d9d9d9" stroke-width="1.9" stroke-linejoin="miter"/>
<rect x="177.6" y="83.6" width="14" height="10.8" rx="2.8" stroke="#555" stroke-width="1.15" stroke-dasharray="3.2 1.3" stroke-dashoffset="1"/>
<rect x="170.7" y="87.6" width="13.8" height="10.8" rx="2.8" fill="#fff" stroke="#555" stroke-width="1.1"/>
<path d="M171.4 89.6H183.8" stroke="#555" stroke-width="1"/><path d="M177.5 91.2v4.6M175.2 93.5h4.6" stroke="#555" stroke-width="1.1"/>
<path d="M218.6 85.6H210.2Q207.7 85.6 207.7 88.1V95.8Q207.7 98.3 210.2 98.3H222.8Q225.3 98.3 225.3 95.8V94" stroke="#555" stroke-width="1.1"/>
<path d="M208.6 87.6H218.6" stroke="#555" stroke-width="1"/>
<path d="M212.4 98V94.3M215.4 98V91.2M218.5 98V94.3M221.5 98V95.3" stroke="#555" stroke-width="1.1"/>
<path d="M221.1 86.2l5.6 5.6M226.7 86.2l-5.6 5.6" stroke="#555" stroke-width="1.1"/>
<path d="M232 90.2h9.8l-4.9 4.8z" fill="#d3d5d2"/>
<path d="M284.8 82.8V99.2M279.8 87.3H295.8" stroke="#555" stroke-width="1.3"/>
<path d="M289.2 99.7Q297.6 101 297.2 92.2" stroke="#555" stroke-width="1.3"/>
<path d="M294.6 94.4L297.3 91.6L299.4 94.8" stroke="#555" stroke-width="1.3"/><path d="M291.4 97.4L288.7 99.6L291.2 102" stroke="#555" stroke-width="1.3"/>
<path d="M325.6 82.6V91H339.6" stroke="#d9d9d9" stroke-width="1.1"/><path d="M328.6 90.5V84M331.4 90.5V86.5M334.2 90.5V85M337 90.5V88" stroke="#d9d9d9" stroke-width="1.1"/>
<path d="M326 98.4H339.4M329 95.4L325.8 98.4L329 101.4M336.4 95.4L339.6 98.4L336.4 101.4" stroke="#d9d9d9" stroke-width="1.1"/>
<path d="M346.8 90.6h8.6l-4.3 4.4z" fill="#d9d9d9"/>
<path d="M377.4 85.7H389.2M377.4 98.3H389.2" stroke="#4a4a4a" stroke-width="1.9"/><path d="M378.4 86.2L384.6 92L378.4 97.8" stroke="#4a4a4a" stroke-width="1.5"/>
<path d="M396.6 90.7h9l-4.5 4.6z" fill="#4a4a4a"/>
<path d="M452.8 96.8V86.2M449.6 89.4L452.8 86L456 89.4" stroke="#d9d9d9" stroke-width="1.2"/><path d="M459.4 86.4H468M459.4 90.6H465.6M459.4 94.8H463.2" stroke="#d9d9d9" stroke-width="1.1"/>
<path d="M489.2 85.8V96.4M486 93.2L489.2 96.6L492.4 93.2" stroke="#d9d9d9" stroke-width="1.2"/><path d="M495.6 86.4H504.2M495.6 90.6H501.8M495.6 94.8H499.4" stroke="#d9d9d9" stroke-width="1.1"/>
</svg>
<div class="abs" style="left:55px;top:116px;width:1205px;height:1px;background:#e6e6e3"></div>
<div class="dd"></div>
<svg class="logo" width="30" height="34" viewBox="1044 75 30 34">
<polygon points="1046.7,95.5 1058.5,88.5 1070.3,95.5 1070.3,99.9 1058.5,106.9 1046.7,99.9" fill="#2d7c31" stroke="#2d7c31" stroke-width="1.2" stroke-linejoin="round"/>
<polyline points="1046.3,97.9 1058.5,104.9 1070.7,97.9" fill="none" stroke="#1e672a" stroke-width="0.9" stroke-linejoin="round"/>
<polygon points="1046.7,89.4 1058.5,82.4 1070.3,89.4 1070.3,95.60000000000001 1058.5,102.60000000000001 1046.7,95.60000000000001" fill="#80d131" stroke="#80d131" stroke-width="1.2" stroke-linejoin="round"/>
<polyline points="1046.3,92.7 1058.5,99.7 1070.7,92.7" fill="none" stroke="#65b926" stroke-width="0.9" stroke-linejoin="round"/>
<polyline points="1046.3,95.9 1058.5,102.9 1070.7,95.9" fill="none" stroke="#5aa82a" stroke-width="0.7" stroke-linejoin="round"/>
<polygon points="1046.7,84.4 1058.5,77.4 1070.3,84.4 1070.3,89.0 1058.5,96.0 1046.7,89.0" fill="#c7f172" stroke="#c7f172" stroke-width="1.2" stroke-linejoin="round"/>
<polyline points="1046.3,89.3 1058.5,96.3 1070.7,89.3" fill="none" stroke="#8ccc48" stroke-width="0.7" stroke-linejoin="round"/>
<polygon points="1046.7,84.4 1058.5,77.4 1070.3,84.4 1058.5,91.4" fill="#b9ea5f" stroke="#6db33a" stroke-width="0.7" stroke-linejoin="round"/>
<polyline points="1046.3,86.5 1058.5,93.5 1070.7,86.5" fill="none" stroke="#9ad651" stroke-width="0.6" stroke-linejoin="round"/>
<path d="M1051.6 84.6q0.6-1.6 2.8-1.6l1.2 0.8M1052.4 85.4l1.6 0.9" stroke="#0c4030" stroke-width="1.3" fill="none" stroke-linecap="round"/>
<path d="M1061.6 82.4l4.2 2.5M1059.8 83.9l4.2 2.5M1058 85.4l4.2 2.5M1056 87l3.4 2" stroke="#0c4030" stroke-width="1.25" fill="none" stroke-linecap="round"/>
<path d="M1056.2 81.3l1.8-1M1058.6 82.5l1 0.6" stroke="#4a9540" stroke-width="0.8" fill="none"/>
</svg>
<div class="t ve" style="left:1084.4px;top:82.2px;letter-spacing:0.592px;">VISUAL EXPLORER</div>
<svg class="abs" style="left:1236px;top:90.4px" width="9" height="6" viewBox="0 0 9 6" fill="none"><path d="M1.3 1.2L4.5 4.3L7.7 1.2" stroke="#555" stroke-width="1.7"/></svg>
<div class="t title" style="left:79.4px;top:135.6px;letter-spacing:0.304px;">Order quantity Jan 2014-Dec 2016</div>
<svg class="chart" width="764" height="682" viewBox="55 117 764 682" font-family="Liberation Sans, sans-serif">
<line x1="157" x2="809" y1="179.3" y2="179.3" stroke="#f0f0f0" stroke-width="1"/>
<line x1="148" x2="154" y1="180.3" y2="180.3" stroke="#e6e6e6" stroke-width="1"/>
<line x1="157" x2="809" y1="235.4" y2="235.4" stroke="#f0f0f0" stroke-width="1"/>
<line x1="148" x2="154" y1="236.4" y2="236.4" stroke="#e6e6e6" stroke-width="1"/>
<line x1="157" x2="809" y1="291.0" y2="291.0" stroke="#f0f0f0" stroke-width="1"/>
<line x1="148" x2="154" y1="292.0" y2="292.0" stroke="#e6e6e6" stroke-width="1"/>
<line x1="157" x2="809" y1="346.5" y2="346.5" stroke="#f0f0f0" stroke-width="1"/>
<line x1="148" x2="154" y1="347.5" y2="347.5" stroke="#e6e6e6" stroke-width="1"/>
<line x1="157" x2="809" y1="402.4" y2="402.4" stroke="#f0f0f0" stroke-width="1"/>
<line x1="148" x2="154" y1="403.4" y2="403.4" stroke="#e6e6e6" stroke-width="1"/>
<line x1="157" x2="809" y1="458.0" y2="458.0" stroke="#f0f0f0" stroke-width="1"/>
<line x1="148" x2="154" y1="459.0" y2="459.0" stroke="#e6e6e6" stroke-width="1"/>
<line x1="157" x2="809" y1="513.5" y2="513.5" stroke="#f0f0f0" stroke-width="1"/>
<line x1="148" x2="154" y1="514.5" y2="514.5" stroke="#e6e6e6" stroke-width="1"/>
<line x1="157" x2="809" y1="569.3" y2="569.3" stroke="#f0f0f0" stroke-width="1"/>
<line x1="148" x2="154" y1="570.3" y2="570.3" stroke="#e6e6e6" stroke-width="1"/>
<line x1="157" x2="809" y1="624.6" y2="624.6" stroke="#f0f0f0" stroke-width="1"/>
<line x1="148" x2="154" y1="625.6" y2="625.6" stroke="#e6e6e6" stroke-width="1"/>
<line x1="148" x2="154" y1="681.2" y2="681.2" stroke="#e6e6e6" stroke-width="1"/>
<line x1="156.7" x2="156.7" y1="171.5" y2="681.7" stroke="#cfcfcf" stroke-width="1"/>
<line x1="156.2" x2="809" y1="681.2" y2="681.2" stroke="#cfcfcf" stroke-width="1"/>
<line x1="183.4" x2="183.4" y1="681.5" y2="686" stroke="#e2e2e2" stroke-width="1"/>
<line x1="215.6" x2="215.6" y1="681.5" y2="686" stroke="#e2e2e2" stroke-width="1"/>
<line x1="249.0" x2="249.0" y1="681.5" y2="686" stroke="#e2e2e2" stroke-width="1"/>
<line x1="282.3" x2="282.3" y1="681.5" y2="686" stroke="#e2e2e2" stroke-width="1"/>
<line x1="316.2" x2="316.2" y1="681.5" y2="686" stroke="#e2e2e2" stroke-width="1"/>
<line x1="349.5" x2="349.5" y1="681.5" y2="686" stroke="#e2e2e2" stroke-width="1"/>
<line x1="382.8" x2="382.8" y1="681.5" y2="686" stroke="#e2e2e2" stroke-width="1"/>
<line x1="415.1" x2="415.1" y1="681.5" y2="686" stroke="#e2e2e2" stroke-width="1"/>
<line x1="448.4" x2="448.4" y1="681.5" y2="686" stroke="#e2e2e2" stroke-width="1"/>
<line x1="481.7" x2="481.7" y1="681.5" y2="686" stroke="#e2e2e2" stroke-width="1"/>
<line x1="515.6" x2="515.6" y1="681.5" y2="686" stroke="#e2e2e2" stroke-width="1"/>
<line x1="548.9" x2="548.9" y1="681.5" y2="686" stroke="#e2e2e2" stroke-width="1"/>
<line x1="582.2" x2="582.2" y1="681.5" y2="686" stroke="#e2e2e2" stroke-width="1"/>
<line x1="615.0" x2="615.0" y1="681.5" y2="686" stroke="#e2e2e2" stroke-width="1"/>
<line x1="648.3" x2="648.3" y1="681.5" y2="686" stroke="#e2e2e2" stroke-width="1"/>
<line x1="681.7" x2="681.7" y1="681.5" y2="686" stroke="#e2e2e2" stroke-width="1"/>
<line x1="715.5" x2="715.5" y1="681.5" y2="686" stroke="#e2e2e2" stroke-width="1"/>
<line x1="748.9" x2="748.9" y1="681.5" y2="686" stroke="#e2e2e2" stroke-width="1"/>
<line x1="782.2" x2="782.2" y1="681.5" y2="686" stroke="#e2e2e2" stroke-width="1"/>
<text x="144.4" y="183.9" text-anchor="end" font-size="11.3" letter-spacing="0.18" fill="#5a5a5a">9,000,000</text>
<text x="144.4" y="240.0" text-anchor="end" font-size="11.3" letter-spacing="0.18" fill="#5a5a5a">8,000,000</text>
<text x="144.4" y="295.6" text-anchor="end" font-size="11.3" letter-spacing="0.18" fill="#5a5a5a">7,000,000</text>
<text x="144.4" y="351.1" text-anchor="end" font-size="11.3" letter-spacing="0.18" fill="#5a5a5a">6,000,000</text>
<text x="144.4" y="407.0" text-anchor="end" font-size="11.3" letter-spacing="0.18" fill="#5a5a5a">5,000,000</text>
<text x="144.4" y="462.6" text-anchor="end" font-size="11.3" letter-spacing="0.18" fill="#5a5a5a">4,000,000</text>
<text x="144.4" y="518.1" text-anchor="end" font-size="11.3" letter-spacing="0.18" fill="#5a5a5a">3,000,000</text>
<text x="144.4" y="573.9" text-anchor="end" font-size="11.3" letter-spacing="0.18" fill="#5a5a5a">2,000,000</text>
<text x="144.4" y="629.2" text-anchor="end" font-size="11.3" letter-spacing="0.18" fill="#5a5a5a">1,000,000</text>
<text x="144.4" y="680" text-anchor="end" font-size="11.3" fill="#5a5a5a">0</text>
<text transform="translate(187.3,689.6) rotate(-90)" text-anchor="end" font-size="11" letter-spacing="0.2" fill="#5a5a5a">Jan 2014</text>
<text transform="translate(219.5,689.6) rotate(-90)" text-anchor="end" font-size="11" letter-spacing="0.2" fill="#5a5a5a">Mar 2014</text>
<text transform="translate(252.9,689.6) rotate(-90)" text-anchor="end" font-size="11" letter-spacing="0.2" fill="#5a5a5a">May 20...</text>
<text transform="translate(286.2,689.6) rotate(-90)" text-anchor="end" font-size="11" letter-spacing="0.2" fill="#5a5a5a">Jul 2014</text>
<text transform="translate(320.1,689.6) rotate(-90)" text-anchor="end" font-size="11" letter-spacing="0.2" fill="#5a5a5a">Sep 2014</text>
<text transform="translate(353.4,689.6) rotate(-90)" text-anchor="end" font-size="11" letter-spacing="0.2" fill="#5a5a5a">Nov 2014</text>
<text transform="translate(386.7,689.6) rotate(-90)" text-anchor="end" font-size="11" letter-spacing="0.2" fill="#5a5a5a">Jan 2015</text>
<text transform="translate(419.0,689.6) rotate(-90)" text-anchor="end" font-size="11" letter-spacing="0.2" fill="#5a5a5a">Mar 2015</text>
<text transform="translate(452.3,689.6) rotate(-90)" text-anchor="end" font-size="11" letter-spacing="0.2" fill="#5a5a5a">May 20...</text>
<text transform="translate(485.6,689.6) rotate(-90)" text-anchor="end" font-size="11" letter-spacing="0.2" fill="#5a5a5a">Jul 2015</text>
<text transform="translate(519.5,689.6) rotate(-90)" text-anchor="end" font-size="11" letter-spacing="0.2" fill="#5a5a5a">Sep 2015</text>
<text transform="translate(552.8,689.6) rotate(-90)" text-anchor="end" font-size="11" letter-spacing="0.2" fill="#5a5a5a">Nov 2015</text>
<text transform="translate(586.1,689.6) rotate(-90)" text-anchor="end" font-size="11" letter-spacing="0.2" fill="#5a5a5a">Jan 2016</text>
<text transform="translate(618.9,689.6) rotate(-90)" text-anchor="end" font-size="11" letter-spacing="0.2" fill="#5a5a5a">Mar 2016</text>
<text transform="translate(652.2,689.6) rotate(-90)" text-anchor="end" font-size="11" letter-spacing="0.2" fill="#5a5a5a">May 20...</text>
<text transform="translate(685.6,689.6) rotate(-90)" text-anchor="end" font-size="11" letter-spacing="0.2" fill="#5a5a5a">Jul 2016</text>
<text transform="translate(719.4,689.6) rotate(-90)" text-anchor="end" font-size="11" letter-spacing="0.2" fill="#5a5a5a">Sep 2016</text>
<text transform="translate(752.8,689.6) rotate(-90)" text-anchor="end" font-size="11" letter-spacing="0.2" fill="#5a5a5a">Nov 2016</text>
<text transform="translate(786.1,689.6) rotate(-90)" text-anchor="end" font-size="11" letter-spacing="0.2" fill="#5a5a5a">Jan 2017</text>
<text x="482.3" y="753.2" text-anchor="middle" font-size="11" font-weight="700" fill="#5c5c5c">MONTH(order_created_date)</text>
<text transform="translate(84,427.3) rotate(-90)" text-anchor="middle" font-size="11" font-weight="700" fill="#5c5c5c">Paper type quantity</text>
<polyline points="183.4,639.3 200.3,629.5 215.6,634.1 232.6,625.2 249.0,642.9 265.9,640.7 282.3,642.6 299.2,623.7 316.2,647.8 332.6,618.8 349.5,637.3 365.9,632.7 382.8,631.8 399.8,638.2 415.1,536.0 432.0,637.5 448.4,627.9 465.3,626.8 481.7,621.8 498.6,611.0 515.6,585.5 532.0,608.8 548.9,616.7 565.3,614.0 582.2,609.9 599.2,611.8 615.0,607.8 632.0,612.1 648.3,598.4 665.3,545.9 681.7,593.0 698.6,596.4 715.5,605.0 731.9,606.9 748.9,592.6 765.3,603.6" fill="none" stroke="#b4cbf8" stroke-width="2" stroke-linejoin="miter" stroke-miterlimit="4"/>
<polyline points="183.4,657.3 200.3,643.9 215.6,642.0 232.6,642.9 249.0,652.8 265.9,653.3 282.3,659.0 299.2,645.6 316.2,648.5 332.6,600.6 349.5,653.3 365.9,643.0 382.8,654.0 399.8,640.5 415.1,645.1 432.0,612.6 448.4,650.3 465.3,642.7 481.7,641.6 498.6,643.2 515.6,649.5 532.0,638.6 548.9,600.3 565.3,631.4 582.2,635.5 599.2,639.6 615.0,629.3 632.0,637.4 648.3,631.0 665.3,629.8 681.7,592.2 698.6,627.8 715.5,616.4 731.9,581.8 748.9,620.6 765.3,597.4" fill="none" stroke="#f8b27e" stroke-width="2" stroke-linejoin="miter" stroke-miterlimit="4"/>
<polyline points="183.4,515.8 200.3,497.5 215.6,497.2 232.6,489.6 249.0,513.4 265.9,511.5 282.3,512.5 299.2,479.8 316.2,513.2 332.6,415.2 349.5,500.8 365.9,480.3 382.8,481.9 399.8,483.3 415.1,381.6 432.0,455.2 448.4,473.0 465.3,466.2 481.7,446.7 498.6,449.7 515.6,407.8 532.0,417.0 548.9,381.5 565.3,410.5 582.2,408.5 599.2,415.8 615.0,384.9 632.0,383.6 648.3,380.3 665.3,202.6 681.7,321.1 698.6,342.3 715.5,348.1 731.9,317.7 748.9,348.5 765.3,334.8" fill="none" stroke="#4c3cb1" stroke-width="1.9" stroke-linejoin="miter" stroke-miterlimit="4"/>
<text x="183.3" y="528.2" text-anchor="middle" font-size="10.6" fill="#222" stroke="#fff" stroke-width="2.5" stroke-linejoin="round" paint-order="stroke">2,953,214</text>
<text x="282.5" y="671.2" text-anchor="middle" font-size="10.6" fill="#222" stroke="#fff" stroke-width="2.5" stroke-linejoin="round" paint-order="stroke">391,645</text>
<text x="316.2" y="660.2" text-anchor="middle" font-size="10.6" fill="#222" stroke="#fff" stroke-width="2.5" stroke-linejoin="round" paint-order="stroke">588,150</text>
<text x="415.3" y="530" text-anchor="middle" font-size="10.6" fill="#222" stroke="#fff" stroke-width="2.5" stroke-linejoin="round" paint-order="stroke">2,591,439</text>
<text x="665.3" y="196.8" text-anchor="middle" font-size="10.6" fill="#222" stroke="#fff" stroke-width="2.5" stroke-linejoin="round" paint-order="stroke">8,576,841</text>
<text x="731.2" y="575.2" text-anchor="middle" font-size="10.6" fill="#222" stroke="#fff" stroke-width="2.5" stroke-linejoin="round" paint-order="stroke">1,777,598</text>
</svg>
<div class="zb" style="left:102.2px;top:779px"><i style="left:3.6px;top:6.2px;width:6px;height:1.9px"></i></div>
<div class="zb" style="left:123.2px;top:779px"><i style="left:3.6px;top:6.2px;width:6px;height:1.9px"></i><i style="left:5.65px;top:4.15px;width:1.9px;height:6px"></i></div>
<div class="rh"></div>
<div class="mid"></div>
<div class="mcard" style="left:825px;top:123px;width:196px;height:80px;border:1px solid #e4e5e1"></div>
<div class="t h12" style="left:832.4px;top:128.8px;letter-spacing:0.207px;">Columns (X)</div>
<div class="pill" style="left:830px;top:156px;width:188px;height:22px;background:#e3f0c1;"></div><div class="t pt" style="left:837.4px;top:157.9px;letter-spacing:0.124px;">MONTH(order_created_d...</div><svg class="abs" style="left:1002px;top:165.9px" width="8" height="4.2" viewBox="0 0 8 4.2"><path d="M0 0h8l-4.0 4.2z" fill="#27762b"/></svg>
<div class="mcard" style="left:825px;top:213px;width:196px;height:161px;border:1px solid #e4e5e1"></div>
<div class="t h12" style="left:832.4px;top:219px;letter-spacing:-0.201px;">Rows (Y)</div>
<div class="sa" style="left:829.5px;top:244.7px;width:187px;height:102.5px;border:1px solid #eef0ea"><div class="sah"></div></div>
<div class="t h115" style="left:836.2px;top:249.2px;letter-spacing:0.138px;">Shared Axis 1</div>
<svg class="abs" style="left:1001px;top:256.3px" width="8.4" height="4.4" viewBox="0 0 8.4 4.4"><path d="M0 0h8.4l-4.2 4.4z" fill="#7a7a7a"/></svg>
<div class="t it" style="left:838px;top:273.0px;letter-spacing:0.208px;">SUM(order_poster_qty)</div>
<svg class="abs" style="left:1001.5px;top:281.7px" width="8" height="4.2" viewBox="0 0 8 4.2"><path d="M0 0h8l-4.0 4.2z" fill="#27762b"/></svg>
<div class="t it" style="left:838px;top:295.0px;letter-spacing:0.136px;">SUM(order_gloss_qty)</div>
<svg class="abs" style="left:1001.5px;top:303.7px" width="8" height="4.2" viewBox="0 0 8 4.2"><path d="M0 0h8l-4.0 4.2z" fill="#27762b"/></svg>
<div class="t it" style="left:838px;top:317.0px;letter-spacing:0.215px;">SUM(order_total_qty)</div>
<svg class="abs" style="left:1001.5px;top:325.7px" width="8" height="4.2" viewBox="0 0 8 4.2"><path d="M0 0h8l-4.0 4.2z" fill="#27762b"/></svg>
<div class="mcard" style="left:825.7px;top:384.8px;width:196.4px;height:276.4px"></div>
<div class="t h115" style="left:833.4px;top:392.0px;letter-spacing:0.257px;">All Layers</div>
<div class="hl" style="left:825.7px;top:417.3px;width:196.4px;background:#cfd5d2"></div>
<svg class="abs" style="left:836.8px;top:428.70000000000005px" width="11" height="10" viewBox="0 0 11 10" fill="none"><path d="M0.6 5.6L3.4 3.4L5.6 4.8L10 1.2" stroke="#444" stroke-width="1.1"/><path d="M0.4 8.6H10.4" stroke="#444" stroke-width="1.2"/></svg>
<div class="t n115" style="left:854.4px;top:423.5px;letter-spacing:-0.017px;">Line</div>
<svg class="abs" style="left:1005.8px;top:431.9px" width="8.2" height="4.4" viewBox="0 0 8.2 4.4"><path d="M0 0h8.2l-4.1 4.4z" fill="#555"/></svg>
<div class="hl" style="left:825.7px;top:447.9px;width:196.4px;background:#cfd5d2"></div>
<div class="cbtn" style="left:830.4px;top:457.4px"></div>
<svg class="abs" style="left:833px;top:461.4px" width="16" height="14" viewBox="833 4 16 14"><path d="M837.7 5.7V15.5H836.4Q834.1 15.5 834.1 13.2V8Q834.1 5.7 836.4 5.7z" fill="#3a6fd9"/><rect x="839.1" y="5.7" width="4" height="9.8" fill="#e8b93b"/><path d="M844.2 5.7V15.5H845.5Q847.8 15.5 847.8 13.2V8Q847.8 5.7 845.5 5.7z" fill="#f27c90"/></svg>
<div class="fbox" style="left:856px;top:457.4px;border:1px solid #d9dcd8"></div>
<div class="t ph" style="left:865.2px;top:458.20000000000005px;letter-spacing:-0.0px;">Add a field to Color</div>
<svg class="abs" style="left:832px;top:485.5px" width="18" height="18" viewBox="832 2 18 18" fill="none" stroke="#4a4a4a" stroke-width="1"><circle cx="842.05" cy="9.45" r="5.15"/><circle cx="838.4" cy="12.95" r="3.8"/></svg>
<div class="fbox" style="left:856px;top:483.5px;border:1px solid #d9dcd8"></div>
<div class="t ph" style="left:865.2px;top:484.3px;letter-spacing:-0.118px;">Add a field to Size</div>
<svg class="abs" style="left:834px;top:513.5px" width="14" height="14" viewBox="834 4 14 14" fill="none" stroke="#444"><path d="M836.6 8.2V6.3H845.6V8.2" stroke-width="1.2"/><path d="M841.1 6.3V15.4" stroke-width="1.9"/><path d="M838.8 15.5H843.4" stroke-width="1.1"/></svg>
<div class="fbox" style="left:856px;top:509.5px;border:1px solid #ecede9;background:#ecede9"></div>
<div class="t mul" style="left:863px;top:508.9px;letter-spacing:-0.041px;">Multiple</div>
<svg class="abs" style="left:1002px;top:519.0px" width="8" height="4.2" viewBox="0 0 8 4.2"><path d="M0 0h8l-4.0 4.2z" fill="#888"/></svg>
<svg class="abs" style="left:834px;top:539.6px" width="14" height="14" viewBox="834 4 14 14" fill="none" stroke="#555" stroke-width="1.1"><rect x="839.5" y="5.5" width="3.1" height="3.1"/><rect x="836.5" y="11.8" width="3.1" height="3.1"/><rect x="842.6" y="11.8" width="3.1" height="3.1"/></svg>
<div class="fbox" style="left:856px;top:535.6px;border:1px solid #d9dcd8"></div>
<div class="t ph" style="left:865.2px;top:536.4px;letter-spacing:-0.053px;">Add a field to Detail</div>
<div class="hl" style="left:825.7px;top:565.3px;width:196.4px;background:#e6e7e3"></div>
<div class="t it" style="left:832.9px;top:572.9000000000001px;letter-spacing:0.208px;">SUM(order_poster_qty)</div>
<svg class="abs" style="left:998.6px;top:577.9000000000001px" width="11" height="10" viewBox="0 0 11 10" fill="none"><path d="M0.6 5.6L3.4 3.4L5.6 4.8L10 1.2" stroke="#333" stroke-width="1.1"/><path d="M0.4 8.6H10.4" stroke="#333" stroke-width="1.2"/></svg>
<div class="hl" style="left:825.7px;top:597.3px;width:196.4px;background:#e6e7e3"></div>
<div class="t it" style="left:832.9px;top:604.9000000000001px;letter-spacing:0.136px;">SUM(order_gloss_qty)</div>
<svg class="abs" style="left:998.6px;top:609.9000000000001px" width="11" height="10" viewBox="0 0 11 10" fill="none"><path d="M0.6 5.6L3.4 3.4L5.6 4.8L10 1.2" stroke="#333" stroke-width="1.1"/><path d="M0.4 8.6H10.4" stroke="#333" stroke-width="1.2"/></svg>
<div class="hl" style="left:825.7px;top:629.3px;width:196.4px;background:#e6e7e3"></div>
<div class="t it" style="left:832.9px;top:636.9000000000001px;letter-spacing:0.215px;">SUM(order_total_qty)</div>
<svg class="abs" style="left:998.6px;top:641.9000000000001px" width="11" height="10" viewBox="0 0 11 10" fill="none"><path d="M0.6 5.6L3.4 3.4L5.6 4.8L10 1.2" stroke="#333" stroke-width="1.1"/><path d="M0.4 8.6H10.4" stroke="#333" stroke-width="1.2"/></svg>
<div class="mcard" style="left:825px;top:669.8px;width:196px;height:80px;border:1px solid #e4e5e1"></div>
<div class="t h12" style="left:832.4px;top:675.5999999999999px;letter-spacing:0.219px;">Filters</div>
<div class="pill" style="left:830px;top:703.0px;width:188px;height:22px;background:#dde7f8;"></div><div class="t pt" style="left:837.4px;top:704.9px;letter-spacing:0.066px;">YEAR(order_created_date)</div><svg class="abs" style="left:1002px;top:712.9px" width="8" height="4.2" viewBox="0 0 8 4.2"><path d="M0 0h8l-4.0 4.2z" fill="#3b78e0"/></svg>
<div class="rp"></div>
<div class="t tab" style="left:1090.2px;top:130px;letter-spacing:-0.196px;color:#222">Data</div>
<div class="t tab" style="left:1166px;top:130px;letter-spacing:0.19px;color:#5c5c5c">Format</div>
<div class="abs" style="left:1029px;top:163px;width:231px;height:1px;background:#e3e4e0"></div>
<div class="abs" style="left:1063px;top:160.5px;width:80px;height:2.6px;background:#6cbf2c"></div>
<div class="abs" style="left:1029px;top:164px;width:231px;height:32.5px;background:#f8f8f6;border-bottom:1px solid #e3e4e0"></div>
<div class="t fields" style="left:1037.4px;top:170.4px;letter-spacing:-0.005px;">FIELDS</div>
<svg class="abs" style="left:1220px;top:171px" width="20" height="18" viewBox="0 0 20 18"><text x="1.2" y="13.4" font-family="Liberation Serif, serif" font-style="italic" font-size="15" fill="#444">f</text><text x="6.6" y="14.6" font-family="Liberation Serif, serif" font-style="italic" font-size="7.5" fill="#444">x</text><path d="M14.6 2.6v6M11.6 5.6h6" stroke="#5cb82a" stroke-width="1.5"/></svg>
<div class="t dim" style="left:1037.2px;top:209.4px;letter-spacing:0.009px;">Dimensions</div>
<svg class="abs" style="left:1040px;top:232.0px" width="26" height="24" viewBox="1040 232.0 26 24" fill="none"><path d="M1057.7 240.7Q1056.1 237.4 1054.4 237.4H1046.2Q1044.2 237.6 1044.3 239.4Q1044.7 241.0 1047.5 243.7" stroke="#739fee" stroke-width="1" stroke-linecap="round"/><path d="M1057.3 240.5Q1055.9 239.4 1054.6 239.4H1048Q1046.5 239.6 1045.7 241.3" stroke="#739fee" stroke-width="1" stroke-linecap="round"/><path d="M1045.2 240.7L1046.6 241.8L1045.4 242.1z" fill="#739fee" stroke="#739fee" stroke-width="0.6"/><path d="M1050.4 243.8V242.5H1056.8V243.8M1053.5 242.5V248.5M1052 248.5H1055" stroke="#739fee" stroke-width="1"/></svg>
<div class="t fld" style="left:1067.3px;top:234px;letter-spacing:-0.098px;">Measure Names</div>
<svg class="abs" style="left:1040px;top:254.0px" width="26" height="24" viewBox="1040 254.0 26 24" fill="none"><path d="M1053.5 260.1V270.0M1056.5 260.1V270.0M1050 263.5H1060M1050 266.5H1060" stroke="#739fee" stroke-width="1"/></svg>
<div class="t fld" style="left:1067.3px;top:256px;letter-spacing:0.105px;">account_id</div>
<svg class="abs" style="left:1040px;top:276.0px" width="26" height="24" viewBox="1040 276.0 26 24" fill="none"><path d="M1051.5 284.6V282.4H1059.5V284.6M1055.5 282.4V290.5M1053 290.5H1058" stroke="#739fee" stroke-width="1"/></svg>
<div class="t fld" style="left:1067.3px;top:278px;letter-spacing:0.063px;">account_name</div>
<svg class="abs" style="left:1040px;top:298.0px" width="26" height="24" viewBox="1040 298.0 26 24" fill="none"><path d="M1051.5 306.6V304.4H1059.5V306.6M1055.5 304.4V312.5M1053 312.5H1058" stroke="#739fee" stroke-width="1"/></svg>
<div class="t fld" style="left:1067.3px;top:300px;letter-spacing:0.158px;">account_primary_contact</div>
<svg class="abs" style="left:1040px;top:320.0px" width="26" height="24" viewBox="1040 320.0 26 24" fill="none"><path d="M1051.5 328.6V326.4H1059.5V328.6M1055.5 326.4V334.5M1053 334.5H1058" stroke="#739fee" stroke-width="1"/></svg>
<div class="t fld" style="left:1067.3px;top:322px;letter-spacing:0.125px;">account_website</div>
<svg class="abs" style="left:1040px;top:342.0px" width="26" height="24" viewBox="1040 342.0 26 24" fill="none"><rect x="1050.5" y="349.5" width="9" height="8" rx="1.6" stroke="#739fee" stroke-width="1"/><path d="M1050.5 351.4H1059.5M1052.5 348.0V349.6M1057.5 348.0V349.6" stroke="#739fee" stroke-width="1"/><rect x="1055.0" y="353.0" width="1" height="1" fill="#739fee"/><rect x="1057.0" y="353.0" width="1" height="1" fill="#739fee"/><rect x="1053.0" y="355.0" width="1" height="1" fill="#739fee"/><rect x="1055.0" y="355.0" width="1" height="1" fill="#739fee"/><rect x="1057.0" y="355.0" width="1" height="1" fill="#739fee"/></svg>
<div class="t fld" style="left:1067.3px;top:344px;letter-spacing:-0.001px;">order_created_date</div>
<svg class="abs" style="left:1040px;top:364.0px" width="26" height="24" viewBox="1040 364.0 26 24" fill="none"><path d="M1051.5 372.6V370.4H1059.5V372.6M1055.5 370.4V378.5M1053 378.5H1058" stroke="#739fee" stroke-width="1"/></svg>
<div class="t fld" style="left:1067.3px;top:366px;letter-spacing:-0.126px;">order_created_do_w_name</div>
<svg class="abs" style="left:1040px;top:386.0px" width="26" height="24" viewBox="1040 386.0 26 24" fill="none"><path d="M1051.5 394.6V392.4H1059.5V394.6M1055.5 392.4V400.5M1053 400.5H1058" stroke="#739fee" stroke-width="1"/></svg>
<div class="t fld" style="left:1067.3px;top:388px;letter-spacing:0.006px;">order_created_month_name</div>
<svg class="abs" style="left:1040px;top:408.0px" width="26" height="24" viewBox="1040 408.0 26 24" fill="none"><path d="M1053.5 414.1V424.0M1056.5 414.1V424.0M1050 417.5H1060M1050 420.5H1060" stroke="#739fee" stroke-width="1"/></svg>
<div class="t fld" style="left:1067.3px;top:410px;letter-spacing:-0.008px;">order_id</div>
<svg class="abs" style="left:1040px;top:430.0px" width="26" height="24" viewBox="1040 430.0 26 24" fill="none"><path d="M1053.5 436.1V446.0M1056.5 436.1V446.0M1050 439.5H1060M1050 442.5H1060" stroke="#739fee" stroke-width="1"/></svg>
<div class="t fld" style="left:1067.3px;top:432px;letter-spacing:0.039px;">region_id</div>
<svg class="abs" style="left:1040px;top:452.0px" width="26" height="24" viewBox="1040 452.0 26 24" fill="none"><path d="M1051.5 460.6V458.4H1059.5V460.6M1055.5 458.4V466.5M1053 466.5H1058" stroke="#739fee" stroke-width="1"/></svg>
<div class="t fld" style="left:1067.3px;top:454px;letter-spacing:0.005px;">region_name</div>
<svg class="abs" style="left:1040px;top:474.0px" width="26" height="24" viewBox="1040 474.0 26 24" fill="none"><path d="M1053.5 480.1V490.0M1056.5 480.1V490.0M1050 483.5H1060M1050 486.5H1060" stroke="#739fee" stroke-width="1"/></svg>
<div class="t fld" style="left:1067.3px;top:476px;letter-spacing:-0.315px;">sales_rep_id</div>
<svg class="abs" style="left:1040px;top:496.0px" width="26" height="24" viewBox="1040 496.0 26 24" fill="none"><path d="M1051.5 504.6V502.4H1059.5V504.6M1055.5 502.4V510.5M1053 510.5H1058" stroke="#739fee" stroke-width="1"/></svg>
<div class="t fld" style="left:1067.3px;top:498px;letter-spacing:-0.256px;">sales_rep_name</div>
<svg class="abs" style="left:1040px;top:518.0px" width="26" height="24" viewBox="1040 518.0 26 24" fill="none"><path d="M1051.5 526.6V524.4H1059.5V526.6M1055.5 524.4V532.5M1053 532.5H1058" stroke="#739fee" stroke-width="1"/></svg>
<div class="t fld" style="left:1067.3px;top:520px;letter-spacing:-0.05px;">web_event_channel</div>
<svg class="abs" style="left:1040px;top:540.0px" width="26" height="24" viewBox="1040 540.0 26 24" fill="none"><path d="M1051.5 548.6V546.4H1059.5V548.6M1055.5 546.4V554.5M1053 554.5H1058" stroke="#739fee" stroke-width="1"/></svg>
<div class="t fld" style="left:1067.3px;top:542px;letter-spacing:0.005px;">web_event_created_occurred...</div>
<svg class="abs" style="left:1040px;top:562.0px" width="26" height="24" viewBox="1040 562.0 26 24" fill="none"><path d="M1053.5 568.1V578.0M1056.5 568.1V578.0M1050 571.5H1060M1050 574.5H1060" stroke="#739fee" stroke-width="1"/></svg>
<div class="t fld" style="left:1067.3px;top:564px;letter-spacing:-0.129px;">web_event_id</div>
<svg class="abs" style="left:1040px;top:584.0px" width="26" height="24" viewBox="1040 584.0 26 24" fill="none"><rect x="1050.5" y="591.5" width="9" height="8" rx="1.6" stroke="#739fee" stroke-width="1"/><path d="M1050.5 593.4H1059.5M1052.5 590.0V591.6M1057.5 590.0V591.6" stroke="#739fee" stroke-width="1"/><rect x="1055.0" y="595.0" width="1" height="1" fill="#739fee"/><rect x="1057.0" y="595.0" width="1" height="1" fill="#739fee"/><rect x="1053.0" y="597.0" width="1" height="1" fill="#739fee"/><rect x="1055.0" y="597.0" width="1" height="1" fill="#739fee"/><rect x="1057.0" y="597.0" width="1" height="1" fill="#739fee"/></svg>
<div class="t fld" style="left:1067.3px;top:586px;letter-spacing:-0.003px;">web_event_occurred_date</div>
<svg class="abs" style="left:1040px;top:606.0px" width="26" height="24" viewBox="1040 606.0 26 24" fill="none"><path d="M1051.5 614.6V612.4H1059.5V614.6M1055.5 612.4V620.5M1053 620.5H1058" stroke="#739fee" stroke-width="1"/></svg>
<div class="t fld" style="left:1067.3px;top:608px;letter-spacing:-0.148px;">web_event_occurred_do_w_na...</div>
<div class="abs" style="left:1244.6px;top:232.5px;width:15px;height:410px;background:#fff;border-left:1px solid #ececec"></div>
<div class="abs" style="left:1248.8px;top:236px;width:7.8px;height:398px;background:#c1c1c1;border-radius:4px"></div>
<div class="abs" style="left:1029px;top:642.5px;width:231px;height:1px;background:#e3e4e0"></div>
<div class="t dim" style="left:1037.2px;top:656px;letter-spacing:-0.231px;">Measures</div>
<div class="abs" style="left:1029px;top:680px;width:231px;height:119px;overflow:hidden"><div style="position:absolute;left:-1029px;top:-680px">
<svg class="abs" style="left:1040px;top:679.0px" width="26" height="24" viewBox="1040 679.0 26 24" fill="none"><path d="M1057.7 687.7Q1056.1 684.4 1054.4 684.4H1046.2Q1044.2 684.6 1044.3 686.4Q1044.7 688.0 1047.5 690.7" stroke="#74c12c" stroke-width="1" stroke-linecap="round"/><path d="M1057.3 687.5Q1055.9 686.4 1054.6 686.4H1048Q1046.5 686.6 1045.7 688.3" stroke="#74c12c" stroke-width="1" stroke-linecap="round"/><path d="M1045.2 687.7L1046.6 688.8L1045.4 689.1z" fill="#74c12c" stroke="#74c12c" stroke-width="0.6"/><path d="M1051.7 689.2V697.0M1054.5 689.2V697.0M1049 691.7H1057M1049 694.5H1057" stroke="#74c12c" stroke-width="1.1" opacity="0.62"/></svg>
<div class="t fld" style="left:1067.3px;top:681px;letter-spacing:-0.046px;">Measure Values</div>
<svg class="abs" style="left:1040px;top:701.0px" width="26" height="24" viewBox="1040 701.0 26 24" fill="none"><path d="M1053.5 707.1V717.0M1056.5 707.1V717.0M1050 710.5H1060M1050 713.5H1060" stroke="#74c12c" stroke-width="1"/></svg>
<div class="t fld" style="left:1067.3px;top:703px;letter-spacing:0.092px;">account_lat</div>
<svg class="abs" style="left:1040px;top:723.0px" width="26" height="24" viewBox="1040 723.0 26 24" fill="none"><path d="M1053.5 729.1V739.0M1056.5 729.1V739.0M1050 732.5H1060M1050 735.5H1060" stroke="#74c12c" stroke-width="1"/></svg>
<div class="t fld" style="left:1067.3px;top:725px;letter-spacing:0.116px;">account_lon</div>
<svg class="abs" style="left:1040px;top:745.0px" width="26" height="24" viewBox="1040 745.0 26 24" fill="none"><path d="M1053.5 751.1V761.0M1056.5 751.1V761.0M1050 754.5H1060M1050 757.5H1060" stroke="#74c12c" stroke-width="1"/></svg>
<div class="t fld" style="left:1067.3px;top:747px;letter-spacing:-0.028px;">order_created_day</div>
<svg class="abs" style="left:1040px;top:767.0px" width="26" height="24" viewBox="1040 767.0 26 24" fill="none"><path d="M1053.5 773.1V783.0M1056.5 773.1V783.0M1050 776.5H1060M1050 779.5H1060" stroke="#74c12c" stroke-width="1"/></svg>
<div class="t fld" style="left:1067.3px;top:769px;letter-spacing:-0.072px;">order_created_do_w</div>
<svg class="abs" style="left:1040px;top:789.0px" width="26" height="24" viewBox="1040 789.0 26 24" fill="none"><path d="M1053.5 795.1V805.0M1056.5 795.1V805.0M1050 798.5H1060M1050 801.5H1060" stroke="#74c12c" stroke-width="1"/></svg>
<div class="t fld" style="left:1067.3px;top:791px;letter-spacing:0.045px;">order_created_hour</div>
<div class="abs" style="left:1244.6px;top:680px;width:15px;height:130px;background:#fff;border-left:1px solid #ececec"></div>
<div class="abs" style="left:1248.8px;top:683px;width:7.8px;height:140px;background:#c1c1c1;border-radius:4px"></div>
</div></div>
</div></div>
<div class="num">3.3</div>
</body></html>
